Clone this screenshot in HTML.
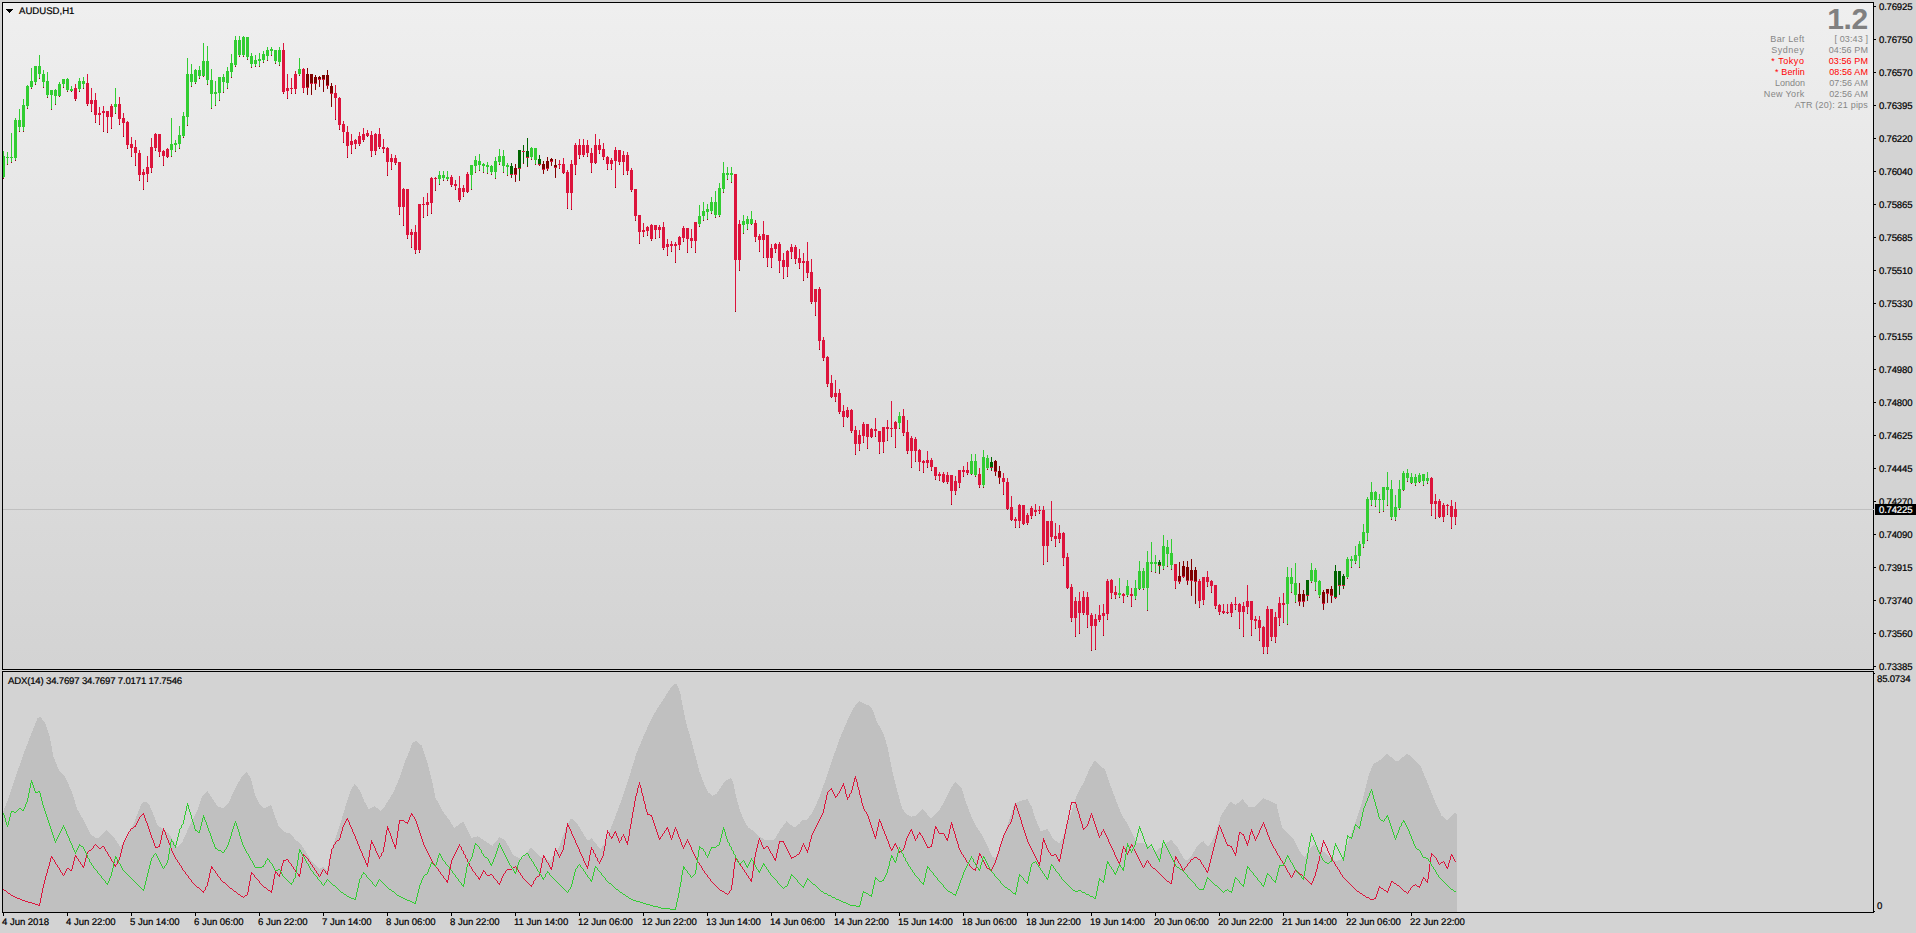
<!DOCTYPE html>
<html><head><meta charset="utf-8"><title>AUDUSD,H1</title>
<style>
html,body{margin:0;padding:0;}
body{width:1916px;height:933px;overflow:hidden;background:#d3d3d3;font-family:"Liberation Sans",sans-serif;position:relative;}
.t{position:absolute;white-space:nowrap;color:#000;font-size:9.6px;line-height:12px;-webkit-text-stroke:0.2px #000;text-rendering:geometricPrecision;}
.pl{left:1879px;letter-spacing:-0.2px;}
.tl{top:917px;letter-spacing:-0.05px;}
.info{position:absolute;white-space:nowrap;font-size:9px;line-height:11px;color:#868686;text-align:right;}
.red{color:#ff0000;}
svg{position:absolute;left:0;top:0;}
</style></head><body>

<svg width="1916" height="933" viewBox="0 0 1916 933" shape-rendering="crispEdges"><defs><linearGradient id="g" x1="0" y1="0" x2="0" y2="1"><stop offset="0" stop-color="#efefef"/><stop offset="1" stop-color="#d3d3d3"/></linearGradient></defs><rect x="3" y="3" width="1870" height="666" fill="url(#g)"/><path fill="#000" d="M2 2H1874V3H2zM2 2h1V670h-1zM1873 2h1V670h-1zM2 669H1874v1H2z"/><path fill="#000" d="M2 671H1874v1H2zM2 671h1V913h-1zM1873 671h1V913h-1zM2 912H1874v1H2z"/><rect x="3" y="509" width="1871" height="1" fill="#c0c0c0"/><path fill="#000" d="M1874 6h2v1h-2zM1874 39h2v1h-2zM1874 72h2v1h-2zM1874 105h2v1h-2zM1874 138h2v1h-2zM1874 171h2v1h-2zM1874 204h2v1h-2zM1874 237h2v1h-2zM1874 270h2v1h-2zM1874 303h2v1h-2zM1874 336h2v1h-2zM1874 369h2v1h-2zM1874 402h2v1h-2zM1874 435h2v1h-2zM1874 468h2v1h-2zM1874 501h2v1h-2zM1874 534h2v1h-2zM1874 567h2v1h-2zM1874 600h2v1h-2zM1874 633h2v1h-2zM1874 666h2v1h-2zM1874 673h1v1h-1zM1874 911h1v1h-1zM3 913h1v3h-1zM67 913h1v3h-1zM131 913h1v3h-1zM195 913h1v3h-1zM259 913h1v3h-1zM323 913h1v3h-1zM387 913h1v3h-1zM451 913h1v3h-1zM515 913h1v3h-1zM579 913h1v3h-1zM643 913h1v3h-1zM707 913h1v3h-1zM771 913h1v3h-1zM835 913h1v3h-1zM899 913h1v3h-1zM963 913h1v3h-1zM1027 913h1v3h-1zM1091 913h1v3h-1zM1155 913h1v3h-1zM1219 913h1v3h-1zM1283 913h1v3h-1zM1347 913h1v3h-1zM1411 913h1v3h-1z"/><rect x="1875" y="504" width="41" height="11" fill="#000"/><polygon shape-rendering="crispEdges" fill="#c0c0c0" points="3.0,912 3.0,812.0 8.4,798.7 16.7,773.6 25.0,750.0 33.4,728.4 37.6,718.0 40.0,716.7 45.0,722.6 49.3,735.0 53.5,756.9 58.5,769.4 65.2,777.0 72.0,792.0 77.0,808.7 83.6,820.4 90.3,833.8 95.3,838.0 98.7,837.5 107.0,830.0 113.7,837.0 120.4,847.0 127.0,838.0 133.8,823.7 138.8,810.4 142.0,802.8 145.5,801.7 148.8,803.7 153.8,815.4 157.2,824.6 163.0,829.6 169.0,833.8 174.0,842.0 177.3,847.0 182.3,842.0 189.0,827.0 197.3,810.4 202.3,796.0 207.4,791.0 211.5,797.0 217.4,806.0 223.2,808.7 229.0,802.0 235.8,787.0 241.6,777.0 247.0,772.0 250.8,778.6 255.0,795.0 260.0,805.0 264.0,808.7 271.0,805.0 274.0,813.7 279.0,827.0 284.0,832.0 291.0,833.8 296.0,841.0 299.0,841.8 306.0,852.0 312.0,862.0 319.3,869.2 323.0,866.4 326.9,870.4 331.0,851.6 339.4,826.6 346.0,804.8 351.0,789.8 354.8,783.9 359.5,789.8 364.5,801.5 368.7,809.0 374.5,806.2 380.4,810.7 384.6,806.5 393.0,793.0 399.6,778.0 404.9,761.8 409.2,751.5 412.6,742.4 416.0,741.0 421.6,745.5 424.6,754.0 427.2,761.8 431.4,778.0 435.6,798.0 443.0,811.5 449.8,820.7 454.0,828.0 463.2,821.5 467.3,830.0 471.5,838.0 478.2,836.3 484.9,840.8 492.4,845.8 499.6,837.0 505.0,840.0 513.3,855.0 521.7,859.2 530.9,847.5 540.0,856.7 550.0,860.8 558.5,848.3 565.2,830.0 571.0,818.2 576.9,823.2 587.7,840.8 591.6,838.3 600.3,849.0 605.3,843.3 609.4,831.5 616.0,814.8 622.8,796.4 629.4,776.3 636.0,754.6 642.8,737.9 649.5,722.8 656.2,710.3 662.9,700.2 669.6,689.4 674.6,683.5 677.0,684.4 680.4,693.6 683.8,712.0 687.0,726.2 691.3,740.4 695.5,756.3 699.7,772.2 703.9,783.5 708.5,792.6 712.6,795.6 716.4,793.9 721.4,786.4 725.6,780.5 730.6,778.0 733.0,781.4 735.6,794.7 739.8,809.8 744.0,820.7 748.2,827.3 753.2,830.7 757.4,835.3 765.8,840.3 774.0,840.3 780.5,829.5 786.6,821.3 794.2,827.6 799.2,824.0 802.6,819.5 807.0,819.7 813.0,811.5 819.6,796.5 826.4,777.2 833.5,756.3 840.0,737.9 846.8,722.0 853.5,707.8 859.4,701.0 864.4,704.0 870.2,706.0 873.6,712.0 877.0,722.0 883.6,733.7 887.8,747.9 892.0,769.6 897.0,789.7 902.0,808.0 906.2,814.0 911.3,816.6 916.0,815.7 923.0,809.0 930.5,818.5 939.7,809.8 948.0,794.5 951.5,786.8 955.5,782.2 961.4,787.3 965.6,801.5 971.4,816.5 976.4,826.6 981.4,834.0 987.3,845.8 992.3,856.7 995.7,858.0 999.8,848.3 1004.9,833.3 1009.9,818.2 1014.9,803.2 1021.6,800.6 1027.4,799.0 1031.6,806.5 1035.8,819.9 1040.8,831.2 1047.5,829.0 1053.4,839.1 1059.2,843.3 1063.4,836.6 1068.4,821.5 1076.8,794.8 1083.5,783.0 1090.0,768.0 1095.0,760.0 1100.0,765.5 1105.0,769.7 1110.2,784.8 1117.0,803.2 1122.0,815.7 1126.0,821.5 1132.0,833.3 1137.0,843.0 1143.7,843.3 1148.7,845.8 1155.4,851.6 1163.7,845.0 1171.2,840.0 1177.0,846.6 1183.8,858.3 1187.0,860.8 1192.0,855.0 1197.2,845.8 1203.2,841.0 1208.2,847.0 1214.0,837.6 1221.4,814.7 1230.2,801.5 1235.5,805.0 1242.6,799.2 1248.7,807.0 1254.5,807.4 1263.3,798.0 1270.0,801.2 1276.5,804.3 1282.0,827.6 1287.6,833.2 1293.2,838.8 1298.8,850.0 1304.4,857.5 1310.0,849.1 1313.8,844.4 1319.3,850.0 1324.0,851.9 1330.5,857.5 1336.0,861.2 1341.7,859.3 1347.3,844.4 1354.8,823.9 1362.2,801.5 1368.8,774.5 1373.4,763.9 1379.0,760.9 1387.0,753.6 1395.8,760.9 1398.6,760.9 1407.0,753.6 1412.6,757.7 1421.0,767.0 1427.5,782.9 1435.0,801.5 1441.5,815.5 1447.0,820.2 1454.5,813.3 1457.0,813.7 1457.0,912"/><rect x="3" y="911" width="1454" height="2" fill="#c0c0c0"/><rect x="2" y="912" width="1872" height="1" fill="#000"/><rect x="2" y="671" width="1" height="242" fill="#000"/><path fill="#dc143c" d="M3 889h1v1h-1zM4 890h1v1h-1zM5 890h1v1h-1zM6 891h1v1h-1zM7 892h1v1h-1zM8 893h1v1h-1zM9 893h1v1h-1zM10 894h1v1h-1zM11 895h1v1h-1zM12 895h1v1h-1zM13 896h1v1h-1zM14 896h1v1h-1zM15 897h1v1h-1zM16 897h1v1h-1zM17 898h1v1h-1zM18 898h1v1h-1zM19 898h1v1h-1zM20 899h1v1h-1zM21 899h1v1h-1zM22 900h1v1h-1zM23 900h1v1h-1zM24 900h1v1h-1zM25 901h1v1h-1zM26 901h1v1h-1zM27 901h1v1h-1zM28 902h1v1h-1zM29 902h1v1h-1zM30 902h1v1h-1zM31 902h1v1h-1zM32 903h1v1h-1zM33 903h1v1h-1zM34 903h1v1h-1zM35 904h1v1h-1zM36 904h1v1h-1zM37 904h1v1h-1zM38 905h1v1h-1zM39 903h1v3h-1zM40 898h1v5h-1zM41 893h1v5h-1zM42 888h1v5h-1zM43 884h1v4h-1zM44 880h1v4h-1zM45 876h1v4h-1zM46 873h1v3h-1zM47 869h1v4h-1zM48 866h1v3h-1zM49 862h1v4h-1zM50 858h1v4h-1zM51 856h1v2h-1zM52 857h1v2h-1zM53 859h1v1h-1zM54 860h1v2h-1zM55 862h1v2h-1zM56 864h1v1h-1zM57 865h1v2h-1zM58 867h1v1h-1zM59 868h1v2h-1zM60 870h1v2h-1zM61 872h1v1h-1zM62 873h1v2h-1zM63 875h1v1h-1zM64 873h1v2h-1zM65 871h1v2h-1zM66 869h1v2h-1zM67 868h1v1h-1zM68 868h1v1h-1zM69 869h1v1h-1zM70 870h1v1h-1zM71 869h1v2h-1zM72 865h1v4h-1zM73 861h1v4h-1zM74 857h1v4h-1zM75 855h1v2h-1zM76 856h1v2h-1zM77 858h1v1h-1zM78 859h1v2h-1zM79 861h1v1h-1zM80 862h1v2h-1zM81 864h1v1h-1zM82 865h1v2h-1zM83 866h1v2h-1zM84 862h1v4h-1zM85 858h1v4h-1zM86 854h1v4h-1zM87 852h1v2h-1zM88 851h1v1h-1zM89 850h1v1h-1zM90 850h1v1h-1zM91 849h1v1h-1zM92 848h1v1h-1zM93 846h1v2h-1zM94 845h1v1h-1zM95 844h1v1h-1zM96 845h1v1h-1zM97 846h1v1h-1zM98 847h1v1h-1zM99 848h1v1h-1zM100 848h1v1h-1zM101 847h1v1h-1zM102 846h1v1h-1zM103 846h1v1h-1zM104 847h1v2h-1zM105 849h1v2h-1zM106 851h1v1h-1zM107 852h1v2h-1zM108 854h1v2h-1zM109 856h1v1h-1zM110 857h1v2h-1zM111 859h1v2h-1zM112 861h1v1h-1zM113 862h1v2h-1zM114 864h1v2h-1zM115 865h1v2h-1zM116 864h1v1h-1zM117 861h1v3h-1zM118 860h1v1h-1zM119 857h1v3h-1zM120 853h1v4h-1zM121 849h1v4h-1zM122 845h1v4h-1zM123 842h1v3h-1zM124 840h1v2h-1zM125 838h1v2h-1zM126 836h1v2h-1zM127 834h1v2h-1zM128 832h1v2h-1zM129 831h1v1h-1zM130 829h1v2h-1zM131 828h1v1h-1zM132 828h1v1h-1zM133 827h1v1h-1zM134 826h1v1h-1zM135 825h1v2h-1zM136 823h1v2h-1zM137 821h1v2h-1zM138 819h1v2h-1zM139 817h1v2h-1zM140 816h1v1h-1zM141 815h1v1h-1zM142 814h1v1h-1zM143 813h1v2h-1zM144 815h1v3h-1zM145 818h1v3h-1zM146 821h1v2h-1zM147 823h1v3h-1zM148 826h1v3h-1zM149 829h1v3h-1zM150 832h1v3h-1zM151 835h1v3h-1zM152 838h1v2h-1zM153 840h1v3h-1zM154 843h1v3h-1zM155 846h1v2h-1zM156 847h1v1h-1zM157 847h1v1h-1zM158 846h1v1h-1zM159 844h1v3h-1zM160 840h1v4h-1zM161 835h1v5h-1zM162 831h1v4h-1zM163 828h1v3h-1zM164 830h1v2h-1zM165 832h1v3h-1zM166 835h1v3h-1zM167 838h1v2h-1zM168 840h1v3h-1zM169 843h1v2h-1zM170 845h1v3h-1zM171 848h1v3h-1zM172 851h1v2h-1zM173 853h1v2h-1zM174 855h1v2h-1zM175 857h1v2h-1zM176 859h1v1h-1zM177 860h1v2h-1zM178 862h1v1h-1zM179 863h1v2h-1zM180 865h1v1h-1zM181 866h1v2h-1zM182 868h1v2h-1zM183 870h1v1h-1zM184 871h1v1h-1zM185 872h1v2h-1zM186 874h1v1h-1zM187 875h1v1h-1zM188 876h1v2h-1zM189 878h1v1h-1zM190 879h1v1h-1zM191 880h1v2h-1zM192 882h1v1h-1zM193 883h1v1h-1zM194 884h1v1h-1zM195 885h1v1h-1zM196 886h1v1h-1zM197 887h1v1h-1zM198 887h1v1h-1zM199 888h1v1h-1zM200 889h1v1h-1zM201 890h1v1h-1zM202 891h1v1h-1zM203 891h1v2h-1zM204 890h1v1h-1zM205 887h1v3h-1zM206 886h1v1h-1zM207 882h1v4h-1zM208 878h1v4h-1zM209 873h1v5h-1zM210 869h1v4h-1zM211 866h1v3h-1zM212 867h1v2h-1zM213 869h1v1h-1zM214 870h1v1h-1zM215 871h1v2h-1zM216 873h1v1h-1zM217 874h1v2h-1zM218 876h1v1h-1zM219 877h1v1h-1zM220 878h1v2h-1zM221 880h1v1h-1zM222 881h1v1h-1zM223 882h1v1h-1zM224 882h1v1h-1zM225 883h1v1h-1zM226 884h1v1h-1zM227 885h1v1h-1zM228 886h1v1h-1zM229 887h1v1h-1zM230 888h1v1h-1zM231 888h1v1h-1zM232 889h1v1h-1zM233 890h1v1h-1zM234 891h1v1h-1zM235 891h1v1h-1zM236 892h1v1h-1zM237 893h1v1h-1zM238 894h1v1h-1zM239 894h1v1h-1zM240 895h1v1h-1zM241 896h1v1h-1zM242 896h1v1h-1zM243 897h1v1h-1zM244 896h1v1h-1zM245 895h1v1h-1zM246 895h1v1h-1zM247 892h1v3h-1zM248 886h1v6h-1zM249 881h1v5h-1zM250 875h1v6h-1zM251 872h1v3h-1zM252 873h1v1h-1zM253 874h1v1h-1zM254 875h1v2h-1zM255 877h1v1h-1zM256 878h1v1h-1zM257 879h1v1h-1zM258 880h1v1h-1zM259 881h1v2h-1zM260 883h1v1h-1zM261 884h1v1h-1zM262 885h1v1h-1zM263 886h1v1h-1zM264 887h1v1h-1zM265 887h1v1h-1zM266 888h1v1h-1zM267 889h1v1h-1zM268 890h1v1h-1zM269 890h1v1h-1zM270 891h1v1h-1zM271 890h1v3h-1zM272 885h1v5h-1zM273 879h1v6h-1zM274 874h1v5h-1zM275 871h1v3h-1zM276 872h1v1h-1zM277 873h1v2h-1zM278 875h1v1h-1zM279 874h1v3h-1zM280 871h1v3h-1zM281 866h1v5h-1zM282 863h1v3h-1zM283 860h1v3h-1zM284 860h1v1h-1zM285 860h1v1h-1zM286 859h1v1h-1zM287 859h1v1h-1zM288 860h1v2h-1zM289 862h1v1h-1zM290 863h1v1h-1zM291 864h1v2h-1zM292 866h1v1h-1zM293 867h1v2h-1zM294 869h1v1h-1zM295 870h1v2h-1zM296 872h1v1h-1zM297 873h1v1h-1zM298 874h1v2h-1zM299 874h1v3h-1zM300 868h1v6h-1zM301 863h1v5h-1zM302 857h1v6h-1zM303 854h1v3h-1zM304 855h1v1h-1zM305 856h1v1h-1zM306 857h1v1h-1zM307 858h1v1h-1zM308 859h1v2h-1zM309 861h1v1h-1zM310 862h1v2h-1zM311 864h1v1h-1zM312 865h1v2h-1zM313 867h1v1h-1zM314 868h1v2h-1zM315 870h1v1h-1zM316 871h1v2h-1zM317 873h1v1h-1zM318 874h1v2h-1zM319 876h1v1h-1zM320 874h1v2h-1zM321 872h1v2h-1zM322 870h1v2h-1zM323 869h1v1h-1zM324 870h1v1h-1zM325 871h1v2h-1zM326 873h1v1h-1zM327 871h1v4h-1zM328 866h1v5h-1zM329 859h1v7h-1zM330 854h1v5h-1zM331 849h1v5h-1zM332 848h1v1h-1zM333 845h1v3h-1zM334 844h1v1h-1zM335 842h1v2h-1zM336 841h1v1h-1zM337 840h1v1h-1zM338 840h1v1h-1zM339 838h1v2h-1zM340 834h1v4h-1zM341 831h1v3h-1zM342 827h1v4h-1zM343 825h1v2h-1zM344 823h1v2h-1zM345 821h1v2h-1zM346 819h1v2h-1zM347 818h1v2h-1zM348 820h1v2h-1zM349 822h1v3h-1zM350 825h1v2h-1zM351 827h1v2h-1zM352 829h1v3h-1zM353 832h1v2h-1zM354 834h1v2h-1zM355 836h1v3h-1zM356 839h1v2h-1zM357 841h1v3h-1zM358 844h1v2h-1zM359 846h1v3h-1zM360 849h1v2h-1zM361 851h1v2h-1zM362 853h1v3h-1zM363 856h1v2h-1zM364 858h1v2h-1zM365 860h1v3h-1zM366 863h1v2h-1zM367 863h1v4h-1zM368 857h1v6h-1zM369 850h1v7h-1zM370 844h1v6h-1zM371 840h1v4h-1zM372 842h1v2h-1zM373 844h1v2h-1zM374 846h1v2h-1zM375 848h1v3h-1zM376 851h1v2h-1zM377 853h1v2h-1zM378 855h1v2h-1zM379 857h1v2h-1zM380 856h1v1h-1zM381 853h1v3h-1zM382 852h1v1h-1zM383 847h1v5h-1zM384 842h1v5h-1zM385 835h1v7h-1zM386 830h1v5h-1zM387 826h1v4h-1zM388 828h1v3h-1zM389 831h1v2h-1zM390 833h1v3h-1zM391 836h1v3h-1zM392 839h1v3h-1zM393 842h1v2h-1zM394 844h1v3h-1zM395 845h1v4h-1zM396 838h1v7h-1zM397 831h1v7h-1zM398 824h1v7h-1zM399 820h1v4h-1zM400 820h1v1h-1zM401 820h1v1h-1zM402 820h1v1h-1zM403 820h1v1h-1zM404 821h1v1h-1zM405 822h1v1h-1zM406 822h1v1h-1zM407 822h1v2h-1zM408 820h1v2h-1zM409 817h1v3h-1zM410 815h1v2h-1zM411 813h1v2h-1zM412 814h1v2h-1zM413 816h1v1h-1zM414 817h1v2h-1zM415 819h1v2h-1zM416 821h1v3h-1zM417 824h1v3h-1zM418 827h1v3h-1zM419 830h1v3h-1zM420 833h1v3h-1zM421 836h1v3h-1zM422 839h1v3h-1zM423 842h1v3h-1zM424 845h1v2h-1zM425 847h1v2h-1zM426 849h1v2h-1zM427 851h1v2h-1zM428 853h1v2h-1zM429 855h1v2h-1zM430 857h1v2h-1zM431 859h1v2h-1zM432 861h1v2h-1zM433 863h1v1h-1zM434 864h1v1h-1zM435 865h1v2h-1zM436 867h1v1h-1zM437 868h1v1h-1zM438 869h1v2h-1zM439 871h1v1h-1zM440 872h1v2h-1zM441 874h1v1h-1zM442 875h1v1h-1zM443 876h1v2h-1zM444 878h1v1h-1zM445 879h1v1h-1zM446 880h1v2h-1zM447 880h1v3h-1zM448 875h1v5h-1zM449 869h1v6h-1zM450 864h1v5h-1zM451 860h1v4h-1zM452 858h1v2h-1zM453 856h1v2h-1zM454 854h1v2h-1zM455 852h1v2h-1zM456 850h1v2h-1zM457 848h1v2h-1zM458 846h1v2h-1zM459 844h1v2h-1zM460 846h1v1h-1zM461 847h1v3h-1zM462 850h1v1h-1zM463 851h1v3h-1zM464 854h1v1h-1zM465 855h1v3h-1zM466 858h1v1h-1zM467 859h1v3h-1zM468 862h1v1h-1zM469 863h1v3h-1zM470 866h1v1h-1zM471 867h1v2h-1zM472 869h1v2h-1zM473 871h1v1h-1zM474 872h1v1h-1zM475 873h1v2h-1zM476 875h1v1h-1zM477 876h1v1h-1zM478 877h1v2h-1zM479 878h1v2h-1zM480 876h1v2h-1zM481 874h1v2h-1zM482 872h1v2h-1zM483 870h1v2h-1zM484 871h1v1h-1zM485 872h1v2h-1zM486 874h1v1h-1zM487 875h1v1h-1zM488 875h1v1h-1zM489 875h1v1h-1zM490 874h1v1h-1zM491 874h1v1h-1zM492 875h1v1h-1zM493 876h1v2h-1zM494 878h1v1h-1zM495 879h1v1h-1zM496 880h1v1h-1zM497 881h1v2h-1zM498 883h1v1h-1zM499 883h1v2h-1zM500 881h1v2h-1zM501 878h1v3h-1zM502 876h1v2h-1zM503 874h1v2h-1zM504 873h1v1h-1zM505 871h1v2h-1zM506 870h1v1h-1zM507 869h1v1h-1zM508 869h1v1h-1zM509 869h1v1h-1zM510 869h1v1h-1zM511 869h1v1h-1zM512 868h1v1h-1zM513 867h1v1h-1zM514 867h1v1h-1zM515 866h1v1h-1zM516 867h1v2h-1zM517 869h1v1h-1zM518 870h1v2h-1zM519 872h1v1h-1zM520 873h1v2h-1zM521 875h1v1h-1zM522 876h1v2h-1zM523 878h1v1h-1zM524 879h1v1h-1zM525 880h1v1h-1zM526 881h1v1h-1zM527 882h1v1h-1zM528 883h1v1h-1zM529 884h1v1h-1zM530 885h1v1h-1zM531 885h1v2h-1zM532 884h1v1h-1zM533 881h1v3h-1zM534 880h1v1h-1zM535 878h1v2h-1zM536 877h1v1h-1zM537 876h1v1h-1zM538 876h1v1h-1zM539 873h1v3h-1zM540 868h1v5h-1zM541 863h1v5h-1zM542 858h1v5h-1zM543 855h1v3h-1zM544 856h1v2h-1zM545 858h1v2h-1zM546 860h1v2h-1zM547 862h1v1h-1zM548 863h1v2h-1zM549 865h1v2h-1zM550 867h1v2h-1zM551 867h1v3h-1zM552 862h1v5h-1zM553 856h1v6h-1zM554 851h1v5h-1zM555 848h1v3h-1zM556 850h1v2h-1zM557 852h1v2h-1zM558 854h1v2h-1zM559 856h1v2h-1zM560 854h1v2h-1zM561 852h1v2h-1zM562 850h1v2h-1zM563 845h1v5h-1zM564 839h1v6h-1zM565 833h1v6h-1zM566 827h1v6h-1zM567 823h1v4h-1zM568 825h1v2h-1zM569 827h1v2h-1zM570 829h1v2h-1zM571 831h1v3h-1zM572 834h1v2h-1zM573 836h1v2h-1zM574 838h1v2h-1zM575 840h1v3h-1zM576 843h1v2h-1zM577 845h1v2h-1zM578 847h1v2h-1zM579 849h1v3h-1zM580 852h1v2h-1zM581 854h1v2h-1zM582 856h1v2h-1zM583 858h1v3h-1zM584 861h1v2h-1zM585 863h1v2h-1zM586 865h1v2h-1zM587 866h1v3h-1zM588 861h1v5h-1zM589 855h1v6h-1zM590 850h1v5h-1zM591 847h1v3h-1zM592 849h1v1h-1zM593 850h1v3h-1zM594 853h1v1h-1zM595 854h1v3h-1zM596 857h1v1h-1zM597 858h1v3h-1zM598 861h1v1h-1zM599 862h1v2h-1zM600 860h1v2h-1zM601 858h1v2h-1zM602 856h1v2h-1zM603 851h1v5h-1zM604 846h1v5h-1zM605 839h1v7h-1zM606 834h1v5h-1zM607 830h1v4h-1zM608 832h1v1h-1zM609 833h1v3h-1zM610 836h1v1h-1zM611 837h1v2h-1zM612 836h1v2h-1zM613 834h1v2h-1zM614 832h1v2h-1zM615 831h1v2h-1zM616 833h1v3h-1zM617 836h1v2h-1zM618 838h1v3h-1zM619 841h1v2h-1zM620 840h1v1h-1zM621 837h1v3h-1zM622 836h1v1h-1zM623 834h1v2h-1zM624 836h1v2h-1zM625 838h1v3h-1zM626 841h1v2h-1zM627 841h1v4h-1zM628 836h1v5h-1zM629 829h1v7h-1zM630 824h1v5h-1zM631 818h1v6h-1zM632 812h1v6h-1zM633 807h1v5h-1zM634 801h1v6h-1zM635 796h1v5h-1zM636 793h1v3h-1zM637 788h1v5h-1zM638 785h1v3h-1zM639 782h1v3h-1zM640 785h1v3h-1zM641 788h1v5h-1zM642 793h1v3h-1zM643 796h1v5h-1zM644 801h1v3h-1zM645 804h1v5h-1zM646 809h1v3h-1zM647 812h1v3h-1zM648 814h1v1h-1zM649 814h1v1h-1zM650 815h1v1h-1zM651 815h1v2h-1zM652 817h1v3h-1zM653 820h1v3h-1zM654 823h1v3h-1zM655 826h1v3h-1zM656 829h1v3h-1zM657 832h1v3h-1zM658 835h1v3h-1zM659 838h1v2h-1zM660 837h1v2h-1zM661 836h1v1h-1zM662 834h1v2h-1zM663 833h1v1h-1zM664 831h1v2h-1zM665 830h1v1h-1zM666 828h1v2h-1zM667 827h1v2h-1zM668 829h1v3h-1zM669 832h1v3h-1zM670 835h1v3h-1zM671 838h1v2h-1zM672 835h1v3h-1zM673 832h1v3h-1zM674 829h1v3h-1zM675 827h1v2h-1zM676 829h1v2h-1zM677 831h1v3h-1zM678 834h1v3h-1zM679 837h1v2h-1zM680 839h1v3h-1zM681 842h1v3h-1zM682 845h1v2h-1zM683 847h1v2h-1zM684 845h1v2h-1zM685 843h1v2h-1zM686 841h1v2h-1zM687 839h1v2h-1zM688 841h1v2h-1zM689 843h1v2h-1zM690 845h1v2h-1zM691 847h1v3h-1zM692 850h1v2h-1zM693 852h1v2h-1zM694 854h1v2h-1zM695 856h1v2h-1zM696 858h1v2h-1zM697 860h1v2h-1zM698 862h1v1h-1zM699 863h1v2h-1zM700 865h1v1h-1zM701 866h1v2h-1zM702 868h1v2h-1zM703 870h1v1h-1zM704 871h1v2h-1zM705 873h1v1h-1zM706 874h1v1h-1zM707 875h1v2h-1zM708 877h1v1h-1zM709 878h1v1h-1zM710 879h1v2h-1zM711 881h1v1h-1zM712 882h1v1h-1zM713 883h1v1h-1zM714 884h1v1h-1zM715 885h1v1h-1zM716 886h1v1h-1zM717 887h1v1h-1zM718 888h1v1h-1zM719 889h1v1h-1zM720 890h1v1h-1zM721 890h1v1h-1zM722 891h1v1h-1zM723 891h1v1h-1zM724 892h1v1h-1zM725 893h1v1h-1zM726 893h1v1h-1zM727 894h1v1h-1zM728 893h1v1h-1zM729 891h1v2h-1zM730 890h1v1h-1zM731 885h1v5h-1zM732 878h1v7h-1zM733 869h1v9h-1zM734 862h1v7h-1zM735 857h1v5h-1zM736 858h1v2h-1zM737 860h1v1h-1zM738 861h1v2h-1zM739 863h1v1h-1zM740 864h1v2h-1zM741 866h1v1h-1zM742 867h1v2h-1zM743 869h1v1h-1zM744 870h1v2h-1zM745 872h1v1h-1zM746 873h1v2h-1zM747 875h1v1h-1zM748 876h1v2h-1zM749 878h1v1h-1zM750 879h1v2h-1zM751 878h1v4h-1zM752 871h1v7h-1zM753 864h1v7h-1zM754 857h1v7h-1zM755 852h1v5h-1zM756 848h1v4h-1zM757 844h1v4h-1zM758 840h1v4h-1zM759 838h1v2h-1zM760 840h1v2h-1zM761 842h1v3h-1zM762 845h1v2h-1zM763 847h1v2h-1zM764 848h1v1h-1zM765 847h1v1h-1zM766 846h1v1h-1zM767 846h1v1h-1zM768 847h1v2h-1zM769 849h1v2h-1zM770 851h1v2h-1zM771 853h1v1h-1zM772 854h1v2h-1zM773 856h1v2h-1zM774 858h1v2h-1zM775 858h1v3h-1zM776 853h1v5h-1zM777 849h1v4h-1zM778 844h1v5h-1zM779 841h1v3h-1zM780 841h1v1h-1zM781 841h1v1h-1zM782 841h1v1h-1zM783 841h1v2h-1zM784 843h1v2h-1zM785 845h1v2h-1zM786 847h1v2h-1zM787 849h1v2h-1zM788 851h1v2h-1zM789 853h1v2h-1zM790 855h1v2h-1zM791 857h1v2h-1zM792 857h1v1h-1zM793 857h1v1h-1zM794 856h1v1h-1zM795 856h1v1h-1zM796 855h1v1h-1zM797 854h1v1h-1zM798 854h1v1h-1zM799 852h1v2h-1zM800 850h1v2h-1zM801 847h1v3h-1zM802 845h1v2h-1zM803 843h1v2h-1zM804 845h1v2h-1zM805 847h1v2h-1zM806 849h1v2h-1zM807 850h1v3h-1zM808 847h1v3h-1zM809 842h1v5h-1zM810 839h1v3h-1zM811 835h1v4h-1zM812 833h1v2h-1zM813 831h1v2h-1zM814 829h1v2h-1zM815 827h1v2h-1zM816 825h1v2h-1zM817 823h1v2h-1zM818 821h1v2h-1zM819 819h1v2h-1zM820 817h1v2h-1zM821 815h1v2h-1zM822 813h1v2h-1zM823 809h1v4h-1zM824 804h1v5h-1zM825 800h1v4h-1zM826 795h1v5h-1zM827 792h1v3h-1zM828 791h1v1h-1zM829 790h1v1h-1zM830 789h1v1h-1zM831 788h1v2h-1zM832 790h1v2h-1zM833 792h1v2h-1zM834 794h1v2h-1zM835 796h1v2h-1zM836 796h1v1h-1zM837 794h1v2h-1zM838 793h1v1h-1zM839 791h1v2h-1zM840 789h1v2h-1zM841 787h1v2h-1zM842 785h1v2h-1zM843 783h1v3h-1zM844 786h1v3h-1zM845 789h1v5h-1zM846 794h1v3h-1zM847 797h1v3h-1zM848 797h1v1h-1zM849 794h1v3h-1zM850 793h1v1h-1zM851 790h1v3h-1zM852 786h1v4h-1zM853 782h1v4h-1zM854 778h1v4h-1zM855 776h1v3h-1zM856 779h1v3h-1zM857 782h1v5h-1zM858 787h1v3h-1zM859 790h1v5h-1zM860 795h1v3h-1zM861 798h1v5h-1zM862 803h1v3h-1zM863 806h1v3h-1zM864 809h1v2h-1zM865 811h1v1h-1zM866 812h1v2h-1zM867 814h1v2h-1zM868 816h1v3h-1zM869 819h1v3h-1zM870 822h1v3h-1zM871 825h1v3h-1zM872 828h1v3h-1zM873 831h1v3h-1zM874 834h1v3h-1zM875 836h1v3h-1zM876 831h1v5h-1zM877 827h1v4h-1zM878 822h1v5h-1zM879 819h1v3h-1zM880 821h1v2h-1zM881 823h1v3h-1zM882 826h1v3h-1zM883 829h1v2h-1zM884 831h1v3h-1zM885 834h1v2h-1zM886 836h1v3h-1zM887 839h1v2h-1zM888 841h1v3h-1zM889 844h1v3h-1zM890 847h1v2h-1zM891 849h1v2h-1zM892 848h1v2h-1zM893 846h1v2h-1zM894 844h1v2h-1zM895 843h1v2h-1zM896 845h1v2h-1zM897 847h1v2h-1zM898 849h1v2h-1zM899 851h1v2h-1zM900 851h1v1h-1zM901 850h1v1h-1zM902 850h1v1h-1zM903 848h1v2h-1zM904 845h1v3h-1zM905 841h1v4h-1zM906 838h1v3h-1zM907 836h1v2h-1zM908 834h1v2h-1zM909 832h1v2h-1zM910 830h1v2h-1zM911 829h1v2h-1zM912 831h1v3h-1zM913 834h1v2h-1zM914 836h1v3h-1zM915 839h1v2h-1zM916 838h1v1h-1zM917 835h1v3h-1zM918 834h1v1h-1zM919 832h1v2h-1zM920 833h1v2h-1zM921 835h1v1h-1zM922 836h1v2h-1zM923 838h1v2h-1zM924 840h1v2h-1zM925 842h1v2h-1zM926 844h1v2h-1zM927 846h1v2h-1zM928 847h1v1h-1zM929 847h1v1h-1zM930 846h1v1h-1zM931 844h1v3h-1zM932 839h1v5h-1zM933 834h1v5h-1zM934 829h1v5h-1zM935 826h1v3h-1zM936 827h1v2h-1zM937 829h1v2h-1zM938 831h1v2h-1zM939 833h1v1h-1zM940 833h1v1h-1zM941 833h1v1h-1zM942 833h1v1h-1zM943 833h1v1h-1zM944 834h1v2h-1zM945 836h1v2h-1zM946 838h1v2h-1zM947 838h1v3h-1zM948 834h1v4h-1zM949 829h1v5h-1zM950 825h1v4h-1zM951 822h1v3h-1zM952 824h1v4h-1zM953 828h1v3h-1zM954 831h1v3h-1zM955 834h1v4h-1zM956 838h1v3h-1zM957 841h1v3h-1zM958 844h1v4h-1zM959 848h1v2h-1zM960 850h1v2h-1zM961 852h1v2h-1zM962 854h1v1h-1zM963 855h1v2h-1zM964 857h1v1h-1zM965 858h1v2h-1zM966 860h1v2h-1zM967 862h1v1h-1zM968 863h1v1h-1zM969 864h1v2h-1zM970 866h1v1h-1zM971 867h1v1h-1zM972 868h1v1h-1zM973 869h1v1h-1zM974 869h1v1h-1zM975 868h1v3h-1zM976 864h1v4h-1zM977 860h1v4h-1zM978 856h1v4h-1zM979 853h1v3h-1zM980 854h1v2h-1zM981 856h1v2h-1zM982 858h1v2h-1zM983 860h1v2h-1zM984 862h1v2h-1zM985 864h1v2h-1zM986 866h1v2h-1zM987 868h1v1h-1zM988 868h1v1h-1zM989 869h1v1h-1zM990 870h1v1h-1zM991 869h1v2h-1zM992 867h1v2h-1zM993 865h1v2h-1zM994 863h1v2h-1zM995 860h1v3h-1zM996 857h1v3h-1zM997 854h1v3h-1zM998 851h1v3h-1zM999 847h1v4h-1zM1000 844h1v3h-1zM1001 841h1v3h-1zM1002 838h1v3h-1zM1003 835h1v3h-1zM1004 833h1v2h-1zM1005 831h1v2h-1zM1006 829h1v2h-1zM1007 827h1v2h-1zM1008 825h1v2h-1zM1009 824h1v1h-1zM1010 822h1v2h-1zM1011 819h1v3h-1zM1012 815h1v4h-1zM1013 810h1v5h-1zM1014 806h1v4h-1zM1015 803h1v3h-1zM1016 805h1v3h-1zM1017 808h1v3h-1zM1018 811h1v3h-1zM1019 814h1v3h-1zM1020 817h1v3h-1zM1021 820h1v4h-1zM1022 824h1v3h-1zM1023 827h1v3h-1zM1024 830h1v3h-1zM1025 833h1v3h-1zM1026 836h1v3h-1zM1027 839h1v3h-1zM1028 842h1v2h-1zM1029 844h1v2h-1zM1030 846h1v2h-1zM1031 848h1v2h-1zM1032 850h1v2h-1zM1033 852h1v2h-1zM1034 854h1v2h-1zM1035 856h1v2h-1zM1036 858h1v2h-1zM1037 860h1v2h-1zM1038 862h1v2h-1zM1039 862h1v4h-1zM1040 855h1v7h-1zM1041 849h1v6h-1zM1042 842h1v7h-1zM1043 838h1v4h-1zM1044 840h1v3h-1zM1045 843h1v2h-1zM1046 845h1v3h-1zM1047 848h1v2h-1zM1048 850h1v2h-1zM1049 852h1v1h-1zM1050 853h1v2h-1zM1051 855h1v1h-1zM1052 855h1v1h-1zM1053 855h1v1h-1zM1054 854h1v1h-1zM1055 854h1v1h-1zM1056 855h1v2h-1zM1057 857h1v2h-1zM1058 859h1v2h-1zM1059 859h1v3h-1zM1060 854h1v5h-1zM1061 849h1v5h-1zM1062 844h1v5h-1zM1063 839h1v5h-1zM1064 834h1v5h-1zM1065 829h1v5h-1zM1066 824h1v5h-1zM1067 820h1v4h-1zM1068 815h1v5h-1zM1069 810h1v5h-1zM1070 805h1v5h-1zM1071 802h1v3h-1zM1072 802h1v1h-1zM1073 802h1v1h-1zM1074 802h1v1h-1zM1075 802h1v2h-1zM1076 804h1v4h-1zM1077 808h1v3h-1zM1078 811h1v3h-1zM1079 814h1v4h-1zM1080 818h1v3h-1zM1081 821h1v3h-1zM1082 824h1v4h-1zM1083 828h1v2h-1zM1084 828h1v1h-1zM1085 827h1v1h-1zM1086 826h1v1h-1zM1087 824h1v2h-1zM1088 821h1v3h-1zM1089 818h1v3h-1zM1090 815h1v3h-1zM1091 813h1v2h-1zM1092 815h1v3h-1zM1093 818h1v3h-1zM1094 821h1v3h-1zM1095 824h1v3h-1zM1096 827h1v3h-1zM1097 830h1v3h-1zM1098 833h1v3h-1zM1099 836h1v2h-1zM1100 835h1v1h-1zM1101 832h1v3h-1zM1102 831h1v1h-1zM1103 829h1v2h-1zM1104 831h1v2h-1zM1105 833h1v2h-1zM1106 835h1v2h-1zM1107 837h1v2h-1zM1108 839h1v3h-1zM1109 842h1v2h-1zM1110 844h1v2h-1zM1111 846h1v2h-1zM1112 848h1v2h-1zM1113 850h1v2h-1zM1114 852h1v3h-1zM1115 855h1v2h-1zM1116 857h1v2h-1zM1117 859h1v2h-1zM1118 861h1v2h-1zM1119 862h1v3h-1zM1120 858h1v4h-1zM1121 853h1v5h-1zM1122 849h1v4h-1zM1123 846h1v3h-1zM1124 848h1v1h-1zM1125 849h1v3h-1zM1126 852h1v1h-1zM1127 853h1v2h-1zM1128 851h1v2h-1zM1129 848h1v3h-1zM1130 846h1v2h-1zM1131 844h1v2h-1zM1132 845h1v2h-1zM1133 847h1v2h-1zM1134 849h1v2h-1zM1135 851h1v2h-1zM1136 853h1v2h-1zM1137 855h1v2h-1zM1138 857h1v2h-1zM1139 859h1v2h-1zM1140 861h1v2h-1zM1141 863h1v2h-1zM1142 865h1v2h-1zM1143 867h1v1h-1zM1144 865h1v2h-1zM1145 863h1v2h-1zM1146 861h1v2h-1zM1147 860h1v1h-1zM1148 861h1v2h-1zM1149 863h1v1h-1zM1150 864h1v2h-1zM1151 866h1v1h-1zM1152 867h1v1h-1zM1153 868h1v1h-1zM1154 868h1v1h-1zM1155 869h1v1h-1zM1156 870h1v1h-1zM1157 871h1v1h-1zM1158 872h1v1h-1zM1159 873h1v1h-1zM1160 874h1v1h-1zM1161 875h1v1h-1zM1162 876h1v1h-1zM1163 877h1v1h-1zM1164 878h1v1h-1zM1165 879h1v1h-1zM1166 880h1v1h-1zM1167 881h1v1h-1zM1168 881h1v1h-1zM1169 882h1v1h-1zM1170 883h1v1h-1zM1171 880h1v4h-1zM1172 873h1v7h-1zM1173 867h1v6h-1zM1174 860h1v7h-1zM1175 856h1v4h-1zM1176 857h1v2h-1zM1177 859h1v2h-1zM1178 861h1v2h-1zM1179 863h1v1h-1zM1180 864h1v2h-1zM1181 866h1v2h-1zM1182 868h1v2h-1zM1183 870h1v1h-1zM1184 868h1v2h-1zM1185 867h1v1h-1zM1186 866h1v1h-1zM1187 864h1v2h-1zM1188 863h1v1h-1zM1189 862h1v1h-1zM1190 860h1v2h-1zM1191 859h1v1h-1zM1192 859h1v1h-1zM1193 858h1v1h-1zM1194 857h1v1h-1zM1195 857h1v1h-1zM1196 857h1v1h-1zM1197 858h1v1h-1zM1198 859h1v1h-1zM1199 859h1v1h-1zM1200 860h1v2h-1zM1201 862h1v2h-1zM1202 864h1v1h-1zM1203 865h1v2h-1zM1204 867h1v1h-1zM1205 868h1v2h-1zM1206 870h1v2h-1zM1207 871h1v2h-1zM1208 867h1v4h-1zM1209 863h1v4h-1zM1210 859h1v4h-1zM1211 855h1v4h-1zM1212 851h1v4h-1zM1213 847h1v4h-1zM1214 843h1v4h-1zM1215 839h1v4h-1zM1216 835h1v4h-1zM1217 831h1v4h-1zM1218 827h1v4h-1zM1219 825h1v2h-1zM1220 827h1v2h-1zM1221 829h1v3h-1zM1222 832h1v2h-1zM1223 834h1v3h-1zM1224 837h1v2h-1zM1225 839h1v3h-1zM1226 842h1v2h-1zM1227 844h1v2h-1zM1228 845h1v1h-1zM1229 845h1v1h-1zM1230 846h1v1h-1zM1231 846h1v2h-1zM1232 848h1v2h-1zM1233 850h1v2h-1zM1234 852h1v2h-1zM1235 853h1v3h-1zM1236 847h1v6h-1zM1237 841h1v6h-1zM1238 835h1v6h-1zM1239 832h1v3h-1zM1240 832h1v1h-1zM1241 833h1v1h-1zM1242 834h1v1h-1zM1243 834h1v2h-1zM1244 836h1v3h-1zM1245 839h1v2h-1zM1246 841h1v3h-1zM1247 843h1v3h-1zM1248 840h1v3h-1zM1249 835h1v5h-1zM1250 832h1v3h-1zM1251 829h1v3h-1zM1252 831h1v3h-1zM1253 834h1v2h-1zM1254 836h1v3h-1zM1255 839h1v2h-1zM1256 837h1v2h-1zM1257 835h1v2h-1zM1258 833h1v2h-1zM1259 830h1v3h-1zM1260 828h1v2h-1zM1261 826h1v2h-1zM1262 824h1v2h-1zM1263 822h1v2h-1zM1264 824h1v3h-1zM1265 827h1v2h-1zM1266 829h1v3h-1zM1267 832h1v3h-1zM1268 835h1v2h-1zM1269 837h1v3h-1zM1270 840h1v2h-1zM1271 842h1v2h-1zM1272 844h1v2h-1zM1273 846h1v2h-1zM1274 848h1v1h-1zM1275 849h1v2h-1zM1276 851h1v2h-1zM1277 853h1v2h-1zM1278 855h1v1h-1zM1279 856h1v2h-1zM1280 858h1v2h-1zM1281 860h1v1h-1zM1282 861h1v2h-1zM1283 863h1v2h-1zM1284 865h1v1h-1zM1285 866h1v2h-1zM1286 868h1v2h-1zM1287 870h1v2h-1zM1288 872h1v1h-1zM1289 873h1v2h-1zM1290 875h1v2h-1zM1291 877h1v1h-1zM1292 875h1v2h-1zM1293 873h1v2h-1zM1294 871h1v2h-1zM1295 870h1v1h-1zM1296 871h1v1h-1zM1297 872h1v1h-1zM1298 872h1v1h-1zM1299 873h1v1h-1zM1300 874h1v1h-1zM1301 874h1v1h-1zM1302 875h1v1h-1zM1303 876h1v1h-1zM1304 877h1v1h-1zM1305 878h1v1h-1zM1306 879h1v1h-1zM1307 880h1v1h-1zM1308 881h1v1h-1zM1309 882h1v1h-1zM1310 883h1v1h-1zM1311 883h1v2h-1zM1312 881h1v2h-1zM1313 878h1v3h-1zM1314 876h1v2h-1zM1315 872h1v4h-1zM1316 869h1v3h-1zM1317 864h1v5h-1zM1318 861h1v3h-1zM1319 856h1v5h-1zM1320 852h1v4h-1zM1321 847h1v5h-1zM1322 843h1v4h-1zM1323 840h1v3h-1zM1324 842h1v2h-1zM1325 844h1v2h-1zM1326 846h1v2h-1zM1327 848h1v3h-1zM1328 851h1v2h-1zM1329 853h1v2h-1zM1330 855h1v2h-1zM1331 857h1v2h-1zM1332 859h1v2h-1zM1333 861h1v1h-1zM1334 862h1v2h-1zM1335 864h1v2h-1zM1336 866h1v1h-1zM1337 867h1v2h-1zM1338 869h1v1h-1zM1339 870h1v2h-1zM1340 872h1v2h-1zM1341 874h1v1h-1zM1342 875h1v2h-1zM1343 877h1v1h-1zM1344 878h1v1h-1zM1345 879h1v1h-1zM1346 880h1v1h-1zM1347 881h1v1h-1zM1348 882h1v1h-1zM1349 883h1v1h-1zM1350 884h1v1h-1zM1351 885h1v1h-1zM1352 886h1v1h-1zM1353 887h1v1h-1zM1354 888h1v1h-1zM1355 889h1v1h-1zM1356 890h1v1h-1zM1357 891h1v1h-1zM1358 891h1v1h-1zM1359 892h1v1h-1zM1360 893h1v1h-1zM1361 893h1v1h-1zM1362 894h1v1h-1zM1363 895h1v1h-1zM1364 895h1v1h-1zM1365 896h1v1h-1zM1366 897h1v1h-1zM1367 897h1v1h-1zM1368 897h1v1h-1zM1369 898h1v1h-1zM1370 899h1v1h-1zM1371 899h1v1h-1zM1372 899h1v1h-1zM1373 899h1v1h-1zM1374 898h1v1h-1zM1375 897h1v2h-1zM1376 894h1v3h-1zM1377 891h1v3h-1zM1378 888h1v3h-1zM1379 886h1v2h-1zM1380 887h1v1h-1zM1381 888h1v1h-1zM1382 888h1v1h-1zM1383 889h1v1h-1zM1384 890h1v1h-1zM1385 890h1v1h-1zM1386 891h1v1h-1zM1387 891h1v2h-1zM1388 888h1v3h-1zM1389 886h1v2h-1zM1390 883h1v3h-1zM1391 881h1v2h-1zM1392 881h1v1h-1zM1393 882h1v1h-1zM1394 883h1v1h-1zM1395 883h1v1h-1zM1396 884h1v1h-1zM1397 885h1v1h-1zM1398 885h1v1h-1zM1399 886h1v1h-1zM1400 887h1v1h-1zM1401 888h1v1h-1zM1402 889h1v1h-1zM1403 890h1v1h-1zM1404 891h1v1h-1zM1405 891h1v1h-1zM1406 892h1v1h-1zM1407 893h1v1h-1zM1408 891h1v2h-1zM1409 890h1v1h-1zM1410 888h1v2h-1zM1411 887h1v1h-1zM1412 886h1v1h-1zM1413 885h1v1h-1zM1414 885h1v1h-1zM1415 884h1v1h-1zM1416 885h1v1h-1zM1417 886h1v1h-1zM1418 886h1v1h-1zM1419 886h1v2h-1zM1420 884h1v2h-1zM1421 881h1v3h-1zM1422 879h1v2h-1zM1423 877h1v2h-1zM1424 878h1v1h-1zM1425 879h1v2h-1zM1426 881h1v1h-1zM1427 879h1v4h-1zM1428 872h1v7h-1zM1429 864h1v8h-1zM1430 857h1v7h-1zM1431 853h1v4h-1zM1432 854h1v1h-1zM1433 855h1v1h-1zM1434 856h1v1h-1zM1435 857h1v1h-1zM1436 858h1v2h-1zM1437 860h1v2h-1zM1438 862h1v2h-1zM1439 864h1v1h-1zM1440 863h1v1h-1zM1441 862h1v1h-1zM1442 862h1v1h-1zM1443 861h1v1h-1zM1444 862h1v2h-1zM1445 864h1v2h-1zM1446 866h1v2h-1zM1447 867h1v2h-1zM1448 863h1v4h-1zM1449 860h1v3h-1zM1450 856h1v4h-1zM1451 854h1v2h-1zM1452 855h1v2h-1zM1453 857h1v2h-1zM1454 859h1v2h-1zM1455 861h1v1h-1z"/><path fill="#32cd32" d="M3 813h1v2h-1zM4 815h1v3h-1zM5 818h1v4h-1zM6 822h1v3h-1zM7 825h1v2h-1zM8 821h1v4h-1zM9 817h1v4h-1zM10 813h1v4h-1zM11 811h1v2h-1zM12 811h1v1h-1zM13 811h1v1h-1zM14 812h1v1h-1zM15 812h1v1h-1zM16 811h1v1h-1zM17 810h1v1h-1zM18 809h1v1h-1zM19 808h1v1h-1zM20 808h1v1h-1zM21 809h1v1h-1zM22 810h1v1h-1zM23 809h1v2h-1zM24 807h1v2h-1zM25 804h1v3h-1zM26 802h1v2h-1zM27 798h1v4h-1zM28 793h1v5h-1zM29 788h1v5h-1zM30 783h1v5h-1zM31 780h1v3h-1zM32 782h1v3h-1zM33 785h1v3h-1zM34 788h1v3h-1zM35 791h1v2h-1zM36 792h1v1h-1zM37 792h1v1h-1zM38 791h1v1h-1zM39 791h1v2h-1zM40 793h1v4h-1zM41 797h1v4h-1zM42 801h1v4h-1zM43 805h1v3h-1zM44 808h1v3h-1zM45 811h1v3h-1zM46 814h1v3h-1zM47 817h1v3h-1zM48 820h1v3h-1zM49 823h1v3h-1zM50 826h1v3h-1zM51 829h1v3h-1zM52 832h1v3h-1zM53 835h1v3h-1zM54 838h1v3h-1zM55 841h1v2h-1zM56 839h1v2h-1zM57 837h1v2h-1zM58 835h1v2h-1zM59 833h1v2h-1zM60 831h1v2h-1zM61 829h1v2h-1zM62 827h1v2h-1zM63 825h1v2h-1zM64 827h1v2h-1zM65 829h1v2h-1zM66 831h1v3h-1zM67 834h1v2h-1zM68 836h1v2h-1zM69 838h1v3h-1zM70 841h1v2h-1zM71 843h1v2h-1zM72 845h1v3h-1zM73 848h1v2h-1zM74 850h1v2h-1zM75 852h1v2h-1zM76 850h1v2h-1zM77 848h1v2h-1zM78 846h1v2h-1zM79 844h1v2h-1zM80 845h1v1h-1zM81 846h1v1h-1zM82 846h1v1h-1zM83 847h1v2h-1zM84 849h1v2h-1zM85 851h1v2h-1zM86 853h1v2h-1zM87 855h1v3h-1zM88 858h1v1h-1zM89 859h1v3h-1zM90 862h1v1h-1zM91 863h1v2h-1zM92 865h1v1h-1zM93 866h1v2h-1zM94 868h1v1h-1zM95 869h1v1h-1zM96 870h1v1h-1zM97 871h1v2h-1zM98 873h1v1h-1zM99 874h1v1h-1zM100 875h1v1h-1zM101 876h1v2h-1zM102 878h1v1h-1zM103 879h1v1h-1zM104 880h1v1h-1zM105 881h1v2h-1zM106 883h1v1h-1zM107 883h1v2h-1zM108 881h1v2h-1zM109 878h1v3h-1zM110 876h1v2h-1zM111 872h1v4h-1zM112 868h1v4h-1zM113 863h1v5h-1zM114 859h1v4h-1zM115 856h1v3h-1zM116 857h1v2h-1zM117 859h1v2h-1zM118 861h1v2h-1zM119 863h1v1h-1zM120 864h1v2h-1zM121 866h1v2h-1zM122 868h1v2h-1zM123 870h1v1h-1zM124 871h1v1h-1zM125 872h1v1h-1zM126 873h1v1h-1zM127 874h1v1h-1zM128 875h1v1h-1zM129 876h1v1h-1zM130 877h1v1h-1zM131 878h1v1h-1zM132 879h1v1h-1zM133 880h1v1h-1zM134 881h1v1h-1zM135 882h1v1h-1zM136 883h1v1h-1zM137 884h1v1h-1zM138 885h1v1h-1zM139 886h1v1h-1zM140 887h1v1h-1zM141 888h1v1h-1zM142 889h1v1h-1zM143 889h1v2h-1zM144 885h1v4h-1zM145 881h1v4h-1zM146 877h1v4h-1zM147 873h1v4h-1zM148 869h1v4h-1zM149 865h1v4h-1zM150 861h1v4h-1zM151 858h1v3h-1zM152 857h1v1h-1zM153 855h1v2h-1zM154 854h1v1h-1zM155 853h1v1h-1zM156 854h1v2h-1zM157 856h1v2h-1zM158 858h1v2h-1zM159 860h1v2h-1zM160 862h1v2h-1zM161 864h1v2h-1zM162 866h1v2h-1zM163 868h1v1h-1zM164 866h1v2h-1zM165 865h1v1h-1zM166 863h1v2h-1zM167 860h1v3h-1zM168 854h1v6h-1zM169 848h1v6h-1zM170 842h1v6h-1zM171 839h1v3h-1zM172 841h1v1h-1zM173 842h1v3h-1zM174 845h1v1h-1zM175 845h1v3h-1zM176 841h1v4h-1zM177 837h1v4h-1zM178 833h1v4h-1zM179 829h1v4h-1zM180 828h1v1h-1zM181 825h1v3h-1zM182 824h1v1h-1zM183 820h1v4h-1zM184 815h1v5h-1zM185 811h1v4h-1zM186 806h1v5h-1zM187 803h1v3h-1zM188 805h1v4h-1zM189 809h1v3h-1zM190 812h1v3h-1zM191 815h1v4h-1zM192 819h1v3h-1zM193 822h1v3h-1zM194 825h1v4h-1zM195 829h1v2h-1zM196 830h1v1h-1zM197 831h1v1h-1zM198 832h1v1h-1zM199 830h1v3h-1zM200 826h1v4h-1zM201 822h1v4h-1zM202 818h1v4h-1zM203 815h1v3h-1zM204 817h1v3h-1zM205 820h1v2h-1zM206 822h1v3h-1zM207 825h1v3h-1zM208 828h1v3h-1zM209 831h1v2h-1zM210 833h1v3h-1zM211 836h1v3h-1zM212 839h1v3h-1zM213 842h1v2h-1zM214 844h1v3h-1zM215 847h1v2h-1zM216 848h1v1h-1zM217 849h1v1h-1zM218 850h1v1h-1zM219 850h1v1h-1zM220 850h1v1h-1zM221 851h1v1h-1zM222 852h1v1h-1zM223 852h1v1h-1zM224 850h1v2h-1zM225 849h1v1h-1zM226 847h1v2h-1zM227 845h1v2h-1zM228 842h1v3h-1zM229 839h1v3h-1zM230 836h1v3h-1zM231 832h1v4h-1zM232 829h1v3h-1zM233 826h1v3h-1zM234 823h1v3h-1zM235 821h1v2h-1zM236 823h1v3h-1zM237 826h1v3h-1zM238 829h1v3h-1zM239 832h1v4h-1zM240 836h1v3h-1zM241 839h1v3h-1zM242 842h1v3h-1zM243 845h1v2h-1zM244 847h1v2h-1zM245 849h1v2h-1zM246 851h1v2h-1zM247 853h1v1h-1zM248 854h1v2h-1zM249 856h1v2h-1zM250 858h1v2h-1zM251 860h1v1h-1zM252 861h1v2h-1zM253 863h1v2h-1zM254 865h1v2h-1zM255 867h1v1h-1zM256 867h1v1h-1zM257 867h1v1h-1zM258 867h1v1h-1zM259 867h1v1h-1zM260 867h1v1h-1zM261 867h1v1h-1zM262 866h1v1h-1zM263 865h1v2h-1zM264 864h1v1h-1zM265 861h1v3h-1zM266 860h1v1h-1zM267 858h1v2h-1zM268 859h1v1h-1zM269 860h1v2h-1zM270 862h1v1h-1zM271 863h1v1h-1zM272 864h1v2h-1zM273 866h1v2h-1zM274 868h1v2h-1zM275 870h1v1h-1zM276 870h1v1h-1zM277 870h1v1h-1zM278 869h1v1h-1zM279 869h1v1h-1zM280 870h1v2h-1zM281 872h1v2h-1zM282 874h1v2h-1zM283 876h1v1h-1zM284 877h1v1h-1zM285 878h1v1h-1zM286 879h1v1h-1zM287 880h1v1h-1zM288 881h1v1h-1zM289 882h1v1h-1zM290 883h1v1h-1zM291 883h1v2h-1zM292 882h1v1h-1zM293 879h1v3h-1zM294 878h1v1h-1zM295 873h1v5h-1zM296 866h1v7h-1zM297 860h1v6h-1zM298 853h1v7h-1zM299 849h1v4h-1zM300 850h1v2h-1zM301 852h1v2h-1zM302 854h1v2h-1zM303 856h1v1h-1zM304 857h1v2h-1zM305 859h1v2h-1zM306 861h1v2h-1zM307 863h1v1h-1zM308 864h1v2h-1zM309 866h1v2h-1zM310 868h1v2h-1zM311 870h1v1h-1zM312 871h1v1h-1zM313 872h1v2h-1zM314 874h1v1h-1zM315 875h1v1h-1zM316 876h1v1h-1zM317 877h1v2h-1zM318 879h1v1h-1zM319 880h1v1h-1zM320 881h1v1h-1zM321 882h1v2h-1zM322 884h1v1h-1zM323 885h1v1h-1zM324 883h1v2h-1zM325 882h1v1h-1zM326 880h1v2h-1zM327 879h1v1h-1zM328 880h1v1h-1zM329 881h1v1h-1zM330 882h1v1h-1zM331 883h1v1h-1zM332 884h1v1h-1zM333 885h1v1h-1zM334 885h1v1h-1zM335 886h1v1h-1zM336 887h1v1h-1zM337 888h1v1h-1zM338 889h1v1h-1zM339 890h1v1h-1zM340 891h1v1h-1zM341 892h1v1h-1zM342 892h1v1h-1zM343 893h1v1h-1zM344 894h1v1h-1zM345 894h1v1h-1zM346 895h1v1h-1zM347 896h1v1h-1zM348 896h1v1h-1zM349 897h1v1h-1zM350 897h1v1h-1zM351 898h1v1h-1zM352 898h1v1h-1zM353 898h1v1h-1zM354 899h1v1h-1zM355 897h1v3h-1zM356 892h1v5h-1zM357 888h1v4h-1zM358 883h1v5h-1zM359 879h1v4h-1zM360 878h1v1h-1zM361 875h1v3h-1zM362 874h1v1h-1zM363 872h1v2h-1zM364 873h1v1h-1zM365 874h1v1h-1zM366 875h1v2h-1zM367 877h1v1h-1zM368 878h1v1h-1zM369 879h1v1h-1zM370 880h1v1h-1zM371 881h1v1h-1zM372 882h1v2h-1zM373 884h1v1h-1zM374 885h1v1h-1zM375 886h1v1h-1zM376 884h1v2h-1zM377 882h1v2h-1zM378 880h1v2h-1zM379 879h1v1h-1zM380 880h1v1h-1zM381 881h1v1h-1zM382 882h1v1h-1zM383 883h1v1h-1zM384 884h1v1h-1zM385 885h1v1h-1zM386 886h1v1h-1zM387 887h1v1h-1zM388 888h1v1h-1zM389 889h1v1h-1zM390 889h1v1h-1zM391 890h1v1h-1zM392 891h1v1h-1zM393 891h1v1h-1zM394 892h1v1h-1zM395 893h1v1h-1zM396 894h1v1h-1zM397 895h1v1h-1zM398 895h1v1h-1zM399 896h1v1h-1zM400 896h1v1h-1zM401 897h1v1h-1zM402 897h1v1h-1zM403 898h1v1h-1zM404 898h1v1h-1zM405 899h1v1h-1zM406 899h1v1h-1zM407 900h1v1h-1zM408 900h1v1h-1zM409 900h1v1h-1zM410 901h1v1h-1zM411 901h1v1h-1zM412 902h1v1h-1zM413 902h1v1h-1zM414 903h1v1h-1zM415 901h1v3h-1zM416 897h1v4h-1zM417 893h1v4h-1zM418 889h1v4h-1zM419 885h1v4h-1zM420 883h1v2h-1zM421 880h1v3h-1zM422 878h1v2h-1zM423 876h1v2h-1zM424 875h1v1h-1zM425 874h1v1h-1zM426 874h1v1h-1zM427 872h1v2h-1zM428 869h1v3h-1zM429 867h1v2h-1zM430 864h1v3h-1zM431 862h1v2h-1zM432 863h1v1h-1zM433 864h1v1h-1zM434 865h1v1h-1zM435 865h1v2h-1zM436 862h1v3h-1zM437 858h1v4h-1zM438 855h1v3h-1zM439 853h1v2h-1zM440 854h1v2h-1zM441 856h1v2h-1zM442 858h1v2h-1zM443 860h1v1h-1zM444 861h1v1h-1zM445 862h1v2h-1zM446 864h1v1h-1zM447 865h1v1h-1zM448 866h1v1h-1zM449 867h1v2h-1zM450 869h1v1h-1zM451 870h1v1h-1zM452 871h1v2h-1zM453 873h1v1h-1zM454 874h1v1h-1zM455 875h1v2h-1zM456 877h1v1h-1zM457 878h1v1h-1zM458 879h1v2h-1zM459 881h1v1h-1zM460 882h1v1h-1zM461 883h1v2h-1zM462 885h1v1h-1zM463 884h1v3h-1zM464 878h1v6h-1zM465 873h1v5h-1zM466 867h1v6h-1zM467 864h1v3h-1zM468 862h1v2h-1zM469 861h1v1h-1zM470 859h1v2h-1zM471 857h1v2h-1zM472 853h1v4h-1zM473 849h1v4h-1zM474 845h1v4h-1zM475 843h1v2h-1zM476 844h1v1h-1zM477 845h1v1h-1zM478 846h1v1h-1zM479 847h1v2h-1zM480 849h1v1h-1zM481 850h1v3h-1zM482 853h1v1h-1zM483 854h1v2h-1zM484 856h1v1h-1zM485 857h1v1h-1zM486 857h1v1h-1zM487 858h1v1h-1zM488 859h1v2h-1zM489 861h1v2h-1zM490 863h1v2h-1zM491 864h1v2h-1zM492 862h1v2h-1zM493 859h1v3h-1zM494 857h1v2h-1zM495 854h1v3h-1zM496 851h1v3h-1zM497 848h1v3h-1zM498 845h1v3h-1zM499 843h1v2h-1zM500 845h1v2h-1zM501 847h1v2h-1zM502 849h1v2h-1zM503 851h1v2h-1zM504 853h1v2h-1zM505 855h1v2h-1zM506 857h1v2h-1zM507 859h1v2h-1zM508 861h1v2h-1zM509 863h1v2h-1zM510 865h1v1h-1zM511 866h1v2h-1zM512 868h1v1h-1zM513 869h1v2h-1zM514 871h1v2h-1zM515 872h1v2h-1zM516 869h1v3h-1zM517 865h1v4h-1zM518 862h1v3h-1zM519 860h1v2h-1zM520 859h1v1h-1zM521 857h1v2h-1zM522 856h1v1h-1zM523 855h1v1h-1zM524 855h1v1h-1zM525 854h1v1h-1zM526 853h1v1h-1zM527 853h1v1h-1zM528 854h1v2h-1zM529 856h1v2h-1zM530 858h1v1h-1zM531 859h1v2h-1zM532 861h1v1h-1zM533 862h1v2h-1zM534 864h1v2h-1zM535 866h1v1h-1zM536 867h1v2h-1zM537 869h1v2h-1zM538 871h1v1h-1zM539 872h1v2h-1zM540 874h1v1h-1zM541 875h1v2h-1zM542 877h1v2h-1zM543 878h1v2h-1zM544 877h1v1h-1zM545 874h1v3h-1zM546 873h1v1h-1zM547 871h1v2h-1zM548 872h1v1h-1zM549 873h1v2h-1zM550 875h1v1h-1zM551 876h1v1h-1zM552 877h1v1h-1zM553 878h1v1h-1zM554 879h1v1h-1zM555 880h1v1h-1zM556 881h1v1h-1zM557 882h1v1h-1zM558 883h1v1h-1zM559 884h1v1h-1zM560 885h1v1h-1zM561 886h1v1h-1zM562 887h1v1h-1zM563 888h1v1h-1zM564 889h1v1h-1zM565 890h1v1h-1zM566 891h1v1h-1zM567 892h1v1h-1zM568 890h1v2h-1zM569 889h1v1h-1zM570 887h1v2h-1zM571 884h1v3h-1zM572 880h1v4h-1zM573 876h1v4h-1zM574 872h1v4h-1zM575 869h1v3h-1zM576 868h1v1h-1zM577 866h1v2h-1zM578 865h1v1h-1zM579 864h1v1h-1zM580 865h1v2h-1zM581 867h1v1h-1zM582 868h1v1h-1zM583 869h1v2h-1zM584 871h1v1h-1zM585 872h1v2h-1zM586 874h1v1h-1zM587 875h1v2h-1zM588 877h1v1h-1zM589 878h1v1h-1zM590 879h1v2h-1zM591 880h1v2h-1zM592 876h1v4h-1zM593 872h1v4h-1zM594 868h1v4h-1zM595 866h1v2h-1zM596 867h1v1h-1zM597 868h1v2h-1zM598 870h1v1h-1zM599 871h1v1h-1zM600 872h1v1h-1zM601 873h1v2h-1zM602 875h1v1h-1zM603 876h1v1h-1zM604 877h1v1h-1zM605 878h1v2h-1zM606 880h1v1h-1zM607 881h1v1h-1zM608 882h1v1h-1zM609 883h1v1h-1zM610 883h1v1h-1zM611 884h1v1h-1zM612 885h1v1h-1zM613 886h1v1h-1zM614 887h1v1h-1zM615 888h1v1h-1zM616 889h1v1h-1zM617 889h1v1h-1zM618 890h1v1h-1zM619 891h1v1h-1zM620 892h1v1h-1zM621 892h1v1h-1zM622 893h1v1h-1zM623 894h1v1h-1zM624 894h1v1h-1zM625 895h1v1h-1zM626 896h1v1h-1zM627 896h1v1h-1zM628 897h1v1h-1zM629 898h1v1h-1zM630 898h1v1h-1zM631 899h1v1h-1zM632 899h1v1h-1zM633 900h1v1h-1zM634 900h1v1h-1zM635 900h1v1h-1zM636 901h1v1h-1zM637 901h1v1h-1zM638 901h1v1h-1zM639 901h1v1h-1zM640 902h1v1h-1zM641 902h1v1h-1zM642 902h1v1h-1zM643 903h1v1h-1zM644 903h1v1h-1zM645 903h1v1h-1zM646 904h1v1h-1zM647 904h1v1h-1zM648 904h1v1h-1zM649 904h1v1h-1zM650 905h1v1h-1zM651 905h1v1h-1zM652 905h1v1h-1zM653 906h1v1h-1zM654 906h1v1h-1zM655 906h1v1h-1zM656 906h1v1h-1zM657 906h1v1h-1zM658 907h1v1h-1zM659 907h1v1h-1zM660 907h1v1h-1zM661 908h1v1h-1zM662 908h1v1h-1zM663 908h1v1h-1zM664 908h1v1h-1zM665 908h1v1h-1zM666 908h1v1h-1zM667 908h1v1h-1zM668 908h1v1h-1zM669 908h1v1h-1zM670 909h1v1h-1zM671 909h1v1h-1zM672 909h1v1h-1zM673 909h1v1h-1zM674 909h1v1h-1zM675 907h1v3h-1zM676 902h1v5h-1zM677 898h1v4h-1zM678 893h1v5h-1zM679 887h1v6h-1zM680 882h1v5h-1zM681 875h1v7h-1zM682 870h1v5h-1zM683 866h1v4h-1zM684 867h1v2h-1zM685 869h1v1h-1zM686 870h1v1h-1zM687 871h1v2h-1zM688 873h1v1h-1zM689 874h1v1h-1zM690 875h1v2h-1zM691 877h1v1h-1zM692 876h1v1h-1zM693 875h1v1h-1zM694 874h1v1h-1zM695 870h1v4h-1zM696 863h1v7h-1zM697 857h1v6h-1zM698 850h1v7h-1zM699 846h1v4h-1zM700 847h1v1h-1zM701 848h1v1h-1zM702 848h1v1h-1zM703 849h1v2h-1zM704 851h1v1h-1zM705 852h1v3h-1zM706 855h1v1h-1zM707 856h1v2h-1zM708 854h1v2h-1zM709 851h1v3h-1zM710 849h1v2h-1zM711 847h1v2h-1zM712 847h1v1h-1zM713 847h1v1h-1zM714 847h1v1h-1zM715 847h1v1h-1zM716 846h1v1h-1zM717 845h1v1h-1zM718 845h1v1h-1zM719 842h1v3h-1zM720 838h1v4h-1zM721 834h1v4h-1zM722 830h1v4h-1zM723 827h1v3h-1zM724 829h1v3h-1zM725 832h1v4h-1zM726 836h1v3h-1zM727 839h1v3h-1zM728 842h1v1h-1zM729 843h1v3h-1zM730 846h1v1h-1zM731 847h1v3h-1zM732 850h1v1h-1zM733 851h1v3h-1zM734 854h1v1h-1zM735 855h1v3h-1zM736 858h1v1h-1zM737 859h1v3h-1zM738 862h1v1h-1zM739 863h1v2h-1zM740 863h1v1h-1zM741 862h1v1h-1zM742 861h1v1h-1zM743 860h1v1h-1zM744 861h1v2h-1zM745 863h1v2h-1zM746 865h1v2h-1zM747 866h1v2h-1zM748 864h1v2h-1zM749 862h1v2h-1zM750 860h1v2h-1zM751 858h1v2h-1zM752 860h1v1h-1zM753 861h1v3h-1zM754 864h1v1h-1zM755 865h1v2h-1zM756 867h1v2h-1zM757 869h1v1h-1zM758 870h1v2h-1zM759 871h1v2h-1zM760 869h1v2h-1zM761 867h1v2h-1zM762 865h1v2h-1zM763 863h1v2h-1zM764 864h1v2h-1zM765 866h1v1h-1zM766 867h1v2h-1zM767 869h1v1h-1zM768 870h1v2h-1zM769 872h1v1h-1zM770 873h1v2h-1zM771 875h1v1h-1zM772 876h1v1h-1zM773 877h1v1h-1zM774 878h1v1h-1zM775 879h1v1h-1zM776 880h1v1h-1zM777 881h1v2h-1zM778 883h1v1h-1zM779 884h1v1h-1zM780 885h1v1h-1zM781 886h1v1h-1zM782 887h1v1h-1zM783 888h1v1h-1zM784 887h1v1h-1zM785 886h1v1h-1zM786 886h1v1h-1zM787 884h1v2h-1zM788 881h1v3h-1zM789 879h1v2h-1zM790 876h1v3h-1zM791 874h1v2h-1zM792 875h1v1h-1zM793 876h1v1h-1zM794 877h1v1h-1zM795 878h1v1h-1zM796 879h1v1h-1zM797 880h1v2h-1zM798 882h1v1h-1zM799 883h1v1h-1zM800 884h1v1h-1zM801 885h1v1h-1zM802 886h1v1h-1zM803 886h1v2h-1zM804 884h1v2h-1zM805 882h1v2h-1zM806 880h1v2h-1zM807 878h1v2h-1zM808 879h1v1h-1zM809 880h1v1h-1zM810 881h1v1h-1zM811 882h1v1h-1zM812 883h1v1h-1zM813 884h1v1h-1zM814 884h1v1h-1zM815 885h1v1h-1zM816 886h1v1h-1zM817 887h1v1h-1zM818 888h1v1h-1zM819 889h1v1h-1zM820 890h1v1h-1zM821 891h1v1h-1zM822 891h1v1h-1zM823 892h1v1h-1zM824 893h1v1h-1zM825 893h1v1h-1zM826 893h1v1h-1zM827 894h1v1h-1zM828 895h1v1h-1zM829 895h1v1h-1zM830 895h1v1h-1zM831 896h1v1h-1zM832 897h1v1h-1zM833 897h1v1h-1zM834 897h1v1h-1zM835 898h1v1h-1zM836 899h1v1h-1zM837 899h1v1h-1zM838 899h1v1h-1zM839 900h1v1h-1zM840 900h1v1h-1zM841 901h1v1h-1zM842 901h1v1h-1zM843 902h1v1h-1zM844 902h1v1h-1zM845 902h1v1h-1zM846 903h1v1h-1zM847 903h1v1h-1zM848 904h1v1h-1zM849 904h1v1h-1zM850 905h1v1h-1zM851 905h1v1h-1zM852 905h1v1h-1zM853 905h1v1h-1zM854 905h1v1h-1zM855 905h1v1h-1zM856 906h1v1h-1zM857 906h1v1h-1zM858 906h1v1h-1zM859 905h1v2h-1zM860 901h1v4h-1zM861 897h1v4h-1zM862 893h1v4h-1zM863 891h1v2h-1zM864 892h1v1h-1zM865 892h1v1h-1zM866 893h1v1h-1zM867 893h1v1h-1zM868 894h1v1h-1zM869 895h1v1h-1zM870 895h1v1h-1zM871 894h1v3h-1zM872 889h1v5h-1zM873 885h1v4h-1zM874 880h1v5h-1zM875 877h1v3h-1zM876 878h1v1h-1zM877 879h1v1h-1zM878 880h1v1h-1zM879 881h1v1h-1zM880 881h1v1h-1zM881 881h1v1h-1zM882 880h1v1h-1zM883 879h1v2h-1zM884 877h1v2h-1zM885 875h1v2h-1zM886 873h1v2h-1zM887 869h1v4h-1zM888 866h1v3h-1zM889 861h1v5h-1zM890 858h1v3h-1zM891 855h1v3h-1zM892 856h1v2h-1zM893 858h1v2h-1zM894 860h1v2h-1zM895 861h1v2h-1zM896 857h1v4h-1zM897 853h1v4h-1zM898 849h1v4h-1zM899 847h1v2h-1zM900 849h1v1h-1zM901 850h1v3h-1zM902 853h1v1h-1zM903 854h1v3h-1zM904 857h1v1h-1zM905 858h1v3h-1zM906 861h1v1h-1zM907 862h1v2h-1zM908 864h1v2h-1zM909 866h1v1h-1zM910 867h1v2h-1zM911 869h1v1h-1zM912 870h1v2h-1zM913 872h1v1h-1zM914 873h1v2h-1zM915 875h1v1h-1zM916 876h1v1h-1zM917 877h1v1h-1zM918 878h1v1h-1zM919 879h1v2h-1zM920 881h1v1h-1zM921 882h1v1h-1zM922 883h1v1h-1zM923 882h1v3h-1zM924 878h1v4h-1zM925 873h1v5h-1zM926 869h1v4h-1zM927 866h1v3h-1zM928 867h1v1h-1zM929 868h1v2h-1zM930 870h1v1h-1zM931 871h1v1h-1zM932 872h1v1h-1zM933 873h1v2h-1zM934 875h1v1h-1zM935 876h1v1h-1zM936 877h1v1h-1zM937 878h1v2h-1zM938 880h1v1h-1zM939 881h1v1h-1zM940 882h1v1h-1zM941 883h1v1h-1zM942 884h1v1h-1zM943 885h1v2h-1zM944 887h1v1h-1zM945 888h1v1h-1zM946 889h1v1h-1zM947 890h1v1h-1zM948 891h1v1h-1zM949 891h1v1h-1zM950 892h1v1h-1zM951 892h1v1h-1zM952 893h1v1h-1zM953 894h1v1h-1zM954 894h1v1h-1zM955 894h1v2h-1zM956 891h1v3h-1zM957 889h1v2h-1zM958 886h1v3h-1zM959 883h1v3h-1zM960 880h1v3h-1zM961 878h1v2h-1zM962 875h1v3h-1zM963 872h1v3h-1zM964 870h1v2h-1zM965 868h1v2h-1zM966 866h1v2h-1zM967 864h1v2h-1zM968 862h1v2h-1zM969 860h1v2h-1zM970 858h1v2h-1zM971 856h1v2h-1zM972 858h1v1h-1zM973 859h1v3h-1zM974 862h1v1h-1zM975 863h1v2h-1zM976 865h1v2h-1zM977 867h1v1h-1zM978 868h1v2h-1zM979 869h1v2h-1zM980 865h1v4h-1zM981 862h1v3h-1zM982 858h1v4h-1zM983 856h1v2h-1zM984 857h1v2h-1zM985 859h1v2h-1zM986 861h1v2h-1zM987 863h1v2h-1zM988 865h1v2h-1zM989 867h1v2h-1zM990 869h1v2h-1zM991 871h1v1h-1zM992 872h1v1h-1zM993 873h1v1h-1zM994 874h1v2h-1zM995 876h1v1h-1zM996 877h1v1h-1zM997 878h1v1h-1zM998 879h1v1h-1zM999 880h1v1h-1zM1000 881h1v2h-1zM1001 883h1v1h-1zM1002 884h1v1h-1zM1003 885h1v1h-1zM1004 886h1v1h-1zM1005 887h1v1h-1zM1006 887h1v1h-1zM1007 888h1v1h-1zM1008 889h1v1h-1zM1009 889h1v1h-1zM1010 890h1v1h-1zM1011 891h1v1h-1zM1012 892h1v1h-1zM1013 893h1v1h-1zM1014 893h1v1h-1zM1015 892h1v3h-1zM1016 887h1v5h-1zM1017 882h1v5h-1zM1018 877h1v5h-1zM1019 874h1v3h-1zM1020 875h1v1h-1zM1021 876h1v1h-1zM1022 877h1v1h-1zM1023 878h1v2h-1zM1024 880h1v1h-1zM1025 881h1v1h-1zM1026 882h1v1h-1zM1027 881h1v3h-1zM1028 876h1v5h-1zM1029 872h1v4h-1zM1030 867h1v5h-1zM1031 864h1v3h-1zM1032 863h1v1h-1zM1033 862h1v1h-1zM1034 862h1v1h-1zM1035 861h1v1h-1zM1036 862h1v2h-1zM1037 864h1v1h-1zM1038 865h1v2h-1zM1039 867h1v1h-1zM1040 868h1v2h-1zM1041 870h1v1h-1zM1042 871h1v2h-1zM1043 873h1v1h-1zM1044 874h1v2h-1zM1045 876h1v1h-1zM1046 877h1v2h-1zM1047 878h1v2h-1zM1048 874h1v4h-1zM1049 870h1v4h-1zM1050 866h1v4h-1zM1051 864h1v2h-1zM1052 865h1v1h-1zM1053 866h1v2h-1zM1054 868h1v1h-1zM1055 869h1v2h-1zM1056 871h1v1h-1zM1057 872h1v1h-1zM1058 873h1v1h-1zM1059 874h1v2h-1zM1060 876h1v1h-1zM1061 877h1v2h-1zM1062 879h1v1h-1zM1063 880h1v1h-1zM1064 881h1v1h-1zM1065 882h1v1h-1zM1066 883h1v1h-1zM1067 884h1v1h-1zM1068 885h1v1h-1zM1069 886h1v1h-1zM1070 887h1v1h-1zM1071 888h1v1h-1zM1072 889h1v1h-1zM1073 890h1v1h-1zM1074 890h1v1h-1zM1075 891h1v1h-1zM1076 891h1v1h-1zM1077 891h1v1h-1zM1078 890h1v1h-1zM1079 890h1v1h-1zM1080 890h1v1h-1zM1081 891h1v1h-1zM1082 892h1v1h-1zM1083 892h1v1h-1zM1084 892h1v1h-1zM1085 893h1v1h-1zM1086 894h1v1h-1zM1087 894h1v1h-1zM1088 894h1v1h-1zM1089 895h1v1h-1zM1090 896h1v1h-1zM1091 896h1v1h-1zM1092 896h1v1h-1zM1093 897h1v1h-1zM1094 898h1v1h-1zM1095 896h1v3h-1zM1096 891h1v5h-1zM1097 886h1v5h-1zM1098 881h1v5h-1zM1099 878h1v3h-1zM1100 879h1v1h-1zM1101 880h1v1h-1zM1102 881h1v1h-1zM1103 880h1v3h-1zM1104 875h1v5h-1zM1105 869h1v6h-1zM1106 864h1v5h-1zM1107 861h1v3h-1zM1108 862h1v2h-1zM1109 864h1v2h-1zM1110 866h1v1h-1zM1111 867h1v2h-1zM1112 869h1v1h-1zM1113 870h1v2h-1zM1114 872h1v2h-1zM1115 873h1v2h-1zM1116 871h1v2h-1zM1117 868h1v3h-1zM1118 866h1v2h-1zM1119 864h1v2h-1zM1120 865h1v2h-1zM1121 867h1v1h-1zM1122 868h1v2h-1zM1123 867h1v4h-1zM1124 860h1v7h-1zM1125 854h1v6h-1zM1126 847h1v7h-1zM1127 843h1v4h-1zM1128 845h1v2h-1zM1129 847h1v2h-1zM1130 849h1v2h-1zM1131 851h1v2h-1zM1132 849h1v2h-1zM1133 847h1v2h-1zM1134 845h1v2h-1zM1135 841h1v4h-1zM1136 837h1v4h-1zM1137 833h1v4h-1zM1138 829h1v4h-1zM1139 826h1v3h-1zM1140 828h1v3h-1zM1141 831h1v2h-1zM1142 833h1v3h-1zM1143 836h1v3h-1zM1144 839h1v3h-1zM1145 842h1v2h-1zM1146 844h1v3h-1zM1147 847h1v2h-1zM1148 847h1v1h-1zM1149 846h1v1h-1zM1150 845h1v1h-1zM1151 844h1v2h-1zM1152 846h1v2h-1zM1153 848h1v2h-1zM1154 850h1v2h-1zM1155 852h1v2h-1zM1156 854h1v2h-1zM1157 856h1v2h-1zM1158 858h1v2h-1zM1159 859h1v3h-1zM1160 854h1v5h-1zM1161 848h1v6h-1zM1162 843h1v5h-1zM1163 840h1v3h-1zM1164 842h1v2h-1zM1165 844h1v2h-1zM1166 846h1v2h-1zM1167 848h1v2h-1zM1168 850h1v2h-1zM1169 852h1v2h-1zM1170 854h1v2h-1zM1171 856h1v2h-1zM1172 858h1v2h-1zM1173 860h1v2h-1zM1174 862h1v2h-1zM1175 864h1v2h-1zM1176 866h1v1h-1zM1177 867h1v1h-1zM1178 867h1v1h-1zM1179 868h1v1h-1zM1180 869h1v1h-1zM1181 869h1v1h-1zM1182 870h1v1h-1zM1183 871h1v1h-1zM1184 872h1v1h-1zM1185 873h1v1h-1zM1186 874h1v1h-1zM1187 875h1v2h-1zM1188 877h1v1h-1zM1189 878h1v1h-1zM1190 879h1v1h-1zM1191 880h1v1h-1zM1192 881h1v1h-1zM1193 882h1v1h-1zM1194 883h1v1h-1zM1195 884h1v2h-1zM1196 886h1v1h-1zM1197 887h1v1h-1zM1198 888h1v1h-1zM1199 889h1v1h-1zM1200 889h1v1h-1zM1201 889h1v1h-1zM1202 889h1v1h-1zM1203 888h1v2h-1zM1204 885h1v3h-1zM1205 882h1v3h-1zM1206 879h1v3h-1zM1207 877h1v2h-1zM1208 878h1v1h-1zM1209 879h1v1h-1zM1210 880h1v1h-1zM1211 881h1v1h-1zM1212 882h1v1h-1zM1213 883h1v1h-1zM1214 884h1v1h-1zM1215 885h1v1h-1zM1216 885h1v1h-1zM1217 886h1v1h-1zM1218 887h1v1h-1zM1219 888h1v1h-1zM1220 889h1v1h-1zM1221 890h1v1h-1zM1222 891h1v1h-1zM1223 892h1v1h-1zM1224 891h1v1h-1zM1225 890h1v1h-1zM1226 890h1v1h-1zM1227 889h1v1h-1zM1228 890h1v1h-1zM1229 891h1v1h-1zM1230 891h1v1h-1zM1231 891h1v2h-1zM1232 887h1v4h-1zM1233 883h1v4h-1zM1234 879h1v4h-1zM1235 877h1v2h-1zM1236 878h1v1h-1zM1237 879h1v1h-1zM1238 880h1v1h-1zM1239 881h1v2h-1zM1240 883h1v1h-1zM1241 884h1v1h-1zM1242 885h1v1h-1zM1243 884h1v3h-1zM1244 879h1v5h-1zM1245 874h1v5h-1zM1246 869h1v5h-1zM1247 866h1v3h-1zM1248 867h1v1h-1zM1249 868h1v2h-1zM1250 870h1v1h-1zM1251 871h1v1h-1zM1252 872h1v1h-1zM1253 873h1v2h-1zM1254 875h1v1h-1zM1255 876h1v1h-1zM1256 877h1v1h-1zM1257 878h1v2h-1zM1258 880h1v1h-1zM1259 881h1v1h-1zM1260 882h1v1h-1zM1261 883h1v2h-1zM1262 885h1v1h-1zM1263 885h1v2h-1zM1264 882h1v3h-1zM1265 878h1v4h-1zM1266 875h1v3h-1zM1267 873h1v2h-1zM1268 874h1v1h-1zM1269 875h1v1h-1zM1270 876h1v1h-1zM1271 877h1v2h-1zM1272 879h1v1h-1zM1273 880h1v1h-1zM1274 881h1v1h-1zM1275 880h1v3h-1zM1276 876h1v4h-1zM1277 872h1v4h-1zM1278 868h1v4h-1zM1279 865h1v3h-1zM1280 865h1v1h-1zM1281 865h1v1h-1zM1282 865h1v1h-1zM1283 864h1v2h-1zM1284 862h1v2h-1zM1285 859h1v3h-1zM1286 857h1v2h-1zM1287 855h1v2h-1zM1288 856h1v2h-1zM1289 858h1v2h-1zM1290 860h1v2h-1zM1291 862h1v1h-1zM1292 863h1v2h-1zM1293 865h1v2h-1zM1294 867h1v2h-1zM1295 869h1v1h-1zM1296 870h1v1h-1zM1297 871h1v2h-1zM1298 873h1v1h-1zM1299 874h1v1h-1zM1300 875h1v1h-1zM1301 876h1v2h-1zM1302 878h1v1h-1zM1303 876h1v4h-1zM1304 871h1v5h-1zM1305 864h1v7h-1zM1306 859h1v5h-1zM1307 853h1v6h-1zM1308 847h1v6h-1zM1309 842h1v5h-1zM1310 836h1v6h-1zM1311 833h1v3h-1zM1312 835h1v2h-1zM1313 837h1v3h-1zM1314 840h1v2h-1zM1315 842h1v3h-1zM1316 845h1v2h-1zM1317 847h1v3h-1zM1318 850h1v2h-1zM1319 852h1v2h-1zM1320 854h1v2h-1zM1321 856h1v2h-1zM1322 858h1v2h-1zM1323 860h1v1h-1zM1324 861h1v1h-1zM1325 862h1v1h-1zM1326 862h1v1h-1zM1327 863h1v1h-1zM1328 863h1v1h-1zM1329 862h1v1h-1zM1330 861h1v1h-1zM1331 859h1v3h-1zM1332 855h1v4h-1zM1333 850h1v5h-1zM1334 846h1v4h-1zM1335 843h1v3h-1zM1336 845h1v2h-1zM1337 847h1v2h-1zM1338 849h1v2h-1zM1339 851h1v2h-1zM1340 853h1v2h-1zM1341 855h1v2h-1zM1342 857h1v2h-1zM1343 857h1v4h-1zM1344 851h1v6h-1zM1345 845h1v6h-1zM1346 839h1v6h-1zM1347 835h1v4h-1zM1348 836h1v1h-1zM1349 837h1v1h-1zM1350 837h1v1h-1zM1351 837h1v2h-1zM1352 833h1v4h-1zM1353 830h1v3h-1zM1354 826h1v4h-1zM1355 824h1v2h-1zM1356 825h1v1h-1zM1357 826h1v1h-1zM1358 827h1v1h-1zM1359 826h1v3h-1zM1360 821h1v5h-1zM1361 817h1v4h-1zM1362 812h1v5h-1zM1363 808h1v4h-1zM1364 806h1v2h-1zM1365 803h1v3h-1zM1366 801h1v2h-1zM1367 798h1v3h-1zM1368 796h1v2h-1zM1369 793h1v3h-1zM1370 791h1v2h-1zM1371 789h1v2h-1zM1372 791h1v4h-1zM1373 795h1v4h-1zM1374 799h1v3h-1zM1375 802h1v4h-1zM1376 806h1v3h-1zM1377 809h1v4h-1zM1378 813h1v4h-1zM1379 817h1v2h-1zM1380 819h1v1h-1zM1381 820h1v1h-1zM1382 820h1v1h-1zM1383 821h1v1h-1zM1384 819h1v2h-1zM1385 818h1v1h-1zM1386 816h1v2h-1zM1387 815h1v2h-1zM1388 817h1v3h-1zM1389 820h1v3h-1zM1390 823h1v3h-1zM1391 826h1v3h-1zM1392 829h1v3h-1zM1393 832h1v3h-1zM1394 835h1v3h-1zM1395 838h1v2h-1zM1396 835h1v3h-1zM1397 833h1v2h-1zM1398 830h1v3h-1zM1399 827h1v3h-1zM1400 826h1v1h-1zM1401 823h1v3h-1zM1402 822h1v1h-1zM1403 820h1v2h-1zM1404 821h1v2h-1zM1405 823h1v2h-1zM1406 825h1v2h-1zM1407 827h1v2h-1zM1408 829h1v2h-1zM1409 831h1v3h-1zM1410 834h1v2h-1zM1411 836h1v3h-1zM1412 839h1v2h-1zM1413 841h1v3h-1zM1414 844h1v2h-1zM1415 846h1v2h-1zM1416 848h1v1h-1zM1417 849h1v1h-1zM1418 849h1v1h-1zM1419 850h1v1h-1zM1420 851h1v2h-1zM1421 853h1v2h-1zM1422 855h1v2h-1zM1423 857h1v1h-1zM1424 857h1v1h-1zM1425 857h1v1h-1zM1426 858h1v1h-1zM1427 858h1v1h-1zM1428 859h1v2h-1zM1429 861h1v1h-1zM1430 862h1v2h-1zM1431 864h1v2h-1zM1432 866h1v1h-1zM1433 867h1v2h-1zM1434 869h1v1h-1zM1435 870h1v2h-1zM1436 872h1v2h-1zM1437 874h1v1h-1zM1438 875h1v2h-1zM1439 877h1v1h-1zM1440 878h1v1h-1zM1441 879h1v1h-1zM1442 880h1v1h-1zM1443 881h1v1h-1zM1444 882h1v1h-1zM1445 883h1v1h-1zM1446 884h1v1h-1zM1447 885h1v1h-1zM1448 886h1v1h-1zM1449 887h1v1h-1zM1450 888h1v1h-1zM1451 889h1v1h-1zM1452 889h1v1h-1zM1453 890h1v1h-1zM1454 891h1v1h-1zM1455 891h1v1h-1z"/><path fill="#32cd32" d="M3 151h1V179h-1zM2 156h3V177h-3zM7 152h1V165h-1zM6 157h3V158h-3zM11 133h1V163h-1zM10 157h3V158h-3zM15 118h1V161h-1zM14 120h3V158h-3zM19 109h1V132h-1zM18 120h3V127h-3zM23 99h1V132h-1zM22 105h3V127h-3zM27 85h1V109h-1zM26 86h3V106h-3zM31 68h1V89h-1zM30 81h3V87h-3zM35 66h1V85h-1zM34 66h3V82h-3zM39 55h1V79h-1zM38 66h3V74h-3zM43 70h1V88h-1zM42 74h3V82h-3zM47 72h1V98h-1zM46 81h3V95h-3zM51 90h1V110h-1zM50 90h3V95h-3zM55 89h1V105h-1zM54 90h3V96h-3zM59 82h1V97h-1zM58 84h3V96h-3zM63 79h1V88h-1zM62 79h3V84h-3zM67 78h1V92h-1zM66 79h3V90h-3zM71 86h1V92h-1zM70 89h3V91h-3zM79 78h1V92h-1zM78 81h3V89h-3zM83 77h1V89h-1zM82 81h3V84h-3zM115 88h1V114h-1zM114 104h3V107h-3zM171 118h1V157h-1zM170 144h3V150h-3zM175 140h1V152h-1zM174 143h3V145h-3zM179 126h1V149h-1zM178 135h3V144h-3zM183 112h1V138h-1zM182 116h3V136h-3zM187 58h1V126h-1zM186 74h3V117h-3zM191 64h1V87h-1zM190 74h3V82h-3zM195 69h1V84h-1zM194 70h3V82h-3zM199 66h1V79h-1zM198 70h3V76h-3zM203 43h1V77h-1zM202 61h3V76h-3zM207 46h1V85h-1zM206 61h3V80h-3zM211 69h1V109h-1zM210 80h3V94h-3zM215 81h1V106h-1zM214 92h3V94h-3zM219 77h1V101h-1zM218 77h3V93h-3zM223 74h1V93h-1zM222 77h3V82h-3zM227 67h1V89h-1zM226 71h3V83h-3zM231 54h1V78h-1zM230 63h3V72h-3zM235 36h1V67h-1zM234 40h3V65h-3zM239 36h1V57h-1zM238 40h3V55h-3zM243 36h1V57h-1zM242 37h3V55h-3zM247 37h1V60h-1zM246 37h3V57h-3zM251 53h1V68h-1zM250 56h3V64h-3zM255 55h1V67h-1zM254 60h3V64h-3zM259 53h1V67h-1zM258 59h3V61h-3zM263 51h1V63h-1zM262 54h3V60h-3zM267 47h1V61h-1zM266 50h3V56h-3zM271 47h1V56h-1zM270 49h3V51h-3zM275 50h1V64h-1zM274 50h3V61h-3zM279 47h1V66h-1zM278 50h3V62h-3zM299 58h1V76h-1zM298 69h3V74h-3zM439 171h1V185h-1zM438 175h3V179h-3zM443 171h1V181h-1zM442 175h3V178h-3zM447 171h1V181h-1zM446 177h3V179h-3zM471 165h1V190h-1zM470 165h3V175h-3zM475 156h1V173h-1zM474 160h3V166h-3zM479 154h1V171h-1zM478 161h3V165h-3zM483 163h1V173h-1zM482 164h3V166h-3zM487 162h1V174h-1zM486 165h3V167h-3zM491 165h1V175h-1zM490 166h3V172h-3zM495 157h1V179h-1zM494 161h3V172h-3zM499 149h1V165h-1zM498 156h3V162h-3zM503 150h1V173h-1zM502 156h3V166h-3zM507 163h1V176h-1zM506 165h3V167h-3zM531 147h1V160h-1zM530 148h3V157h-3zM535 148h1V165h-1zM534 148h3V160h-3zM699 205h1V227h-1zM698 216h3V224h-3zM703 202h1V221h-1zM702 211h3V216h-3zM707 204h1V220h-1zM706 209h3V212h-3zM711 197h1V214h-1zM710 202h3V211h-3zM715 191h1V218h-1zM714 202h3V215h-3zM719 183h1V217h-1zM718 188h3V215h-3zM723 162h1V193h-1zM722 173h3V189h-3zM727 167h1V180h-1zM726 173h3V175h-3zM731 167h1V183h-1zM730 173h3V175h-3zM743 215h1V234h-1zM742 221h3V225h-3zM747 216h1V230h-1zM746 219h3V224h-3zM751 211h1V225h-1zM750 219h3V224h-3zM899 412h1V429h-1zM898 416h3V423h-3zM971 454h1V475h-1zM970 461h3V474h-3zM975 454h1V477h-1zM974 461h3V475h-3zM983 450h1V488h-1zM982 457h3V485h-3zM987 455h1V470h-1zM986 458h3V468h-3zM1119 578h1V598h-1zM1118 593h3V595h-3zM1127 580h1V597h-1zM1126 586h3V595h-3zM1135 580h1V600h-1zM1134 588h3V596h-3zM1139 561h1V590h-1zM1138 571h3V589h-3zM1143 568h1V590h-1zM1142 571h3V588h-3zM1147 551h1V611h-1zM1146 562h3V588h-3zM1151 542h1V572h-1zM1150 562h3V564h-3zM1155 555h1V573h-1zM1154 562h3V564h-3zM1163 535h1V570h-1zM1162 546h3V566h-3zM1167 540h1V567h-1zM1166 547h3V554h-3zM1171 539h1V570h-1zM1170 553h3V565h-3zM1287 567h1V625h-1zM1286 577h3V604h-3zM1291 568h1V593h-1zM1290 577h3V584h-3zM1295 563h1V603h-1zM1294 583h3V595h-3zM1311 563h1V583h-1zM1310 570h3V581h-3zM1315 568h1V591h-1zM1314 570h3V582h-3zM1319 580h1V598h-1zM1318 581h3V595h-3zM1347 557h1V579h-1zM1346 559h3V577h-3zM1351 556h1V568h-1zM1350 559h3V561h-3zM1355 546h1V564h-1zM1354 555h3V561h-3zM1359 541h1V568h-1zM1358 544h3V556h-3zM1363 524h1V548h-1zM1362 532h3V544h-3zM1367 497h1V541h-1zM1366 499h3V533h-3zM1371 482h1V506h-1zM1370 492h3V500h-3zM1375 491h1V507h-1zM1374 492h3V500h-3zM1379 494h1V513h-1zM1378 499h3V500h-3zM1383 487h1V512h-1zM1382 487h3V500h-3zM1387 472h1V506h-1zM1386 487h3V490h-3zM1391 480h1V520h-1zM1390 489h3V517h-3zM1395 495h1V521h-1zM1394 507h3V517h-3zM1399 480h1V510h-1zM1398 489h3V508h-3zM1403 471h1V491h-1zM1402 473h3V490h-3zM1407 469h1V482h-1zM1406 473h3V478h-3zM1411 473h1V484h-1zM1410 477h3V483h-3zM1415 474h1V486h-1zM1414 477h3V483h-3zM1419 473h1V483h-1zM1418 475h3V482h-3zM1423 474h1V486h-1zM1422 474h3V481h-3zM1427 472h1V484h-1zM1426 478h3V481h-3z"/><path fill="#dc143c" d="M75 84h1V101h-1zM74 88h3V99h-3zM87 74h1V106h-1zM86 83h3V104h-3zM91 88h1V112h-1zM90 100h3V104h-3zM95 93h1V123h-1zM94 100h3V115h-3zM99 107h1V125h-1zM98 113h3V115h-3zM103 106h1V132h-1zM102 111h3V113h-3zM107 111h1V133h-1zM106 111h3V117h-3zM111 104h1V129h-1zM110 106h3V117h-3zM119 97h1V125h-1zM118 104h3V119h-3zM123 113h1V137h-1zM122 118h3V123h-3zM127 121h1V149h-1zM126 122h3V145h-3zM131 137h1V157h-1zM130 144h3V148h-3zM135 140h1V166h-1zM134 147h3V153h-3zM139 150h1V181h-1zM138 153h3V175h-3zM143 169h1V190h-1zM142 172h3V175h-3zM147 156h1V182h-1zM146 167h3V174h-3zM151 138h1V173h-1zM150 147h3V168h-3zM155 133h1V151h-1zM154 134h3V148h-3zM159 134h1V157h-1zM158 134h3V152h-3zM163 150h1V166h-1zM162 151h3V156h-3zM167 148h1V158h-1zM166 149h3V157h-3zM283 43h1V94h-1zM282 50h3V92h-3zM287 74h1V99h-1zM286 88h3V91h-3zM291 78h1V94h-1zM290 88h3V89h-3zM295 71h1V94h-1zM294 74h3V89h-3zM303 68h1V93h-1zM302 69h3V88h-3zM335 85h1V120h-1zM334 93h3V98h-3zM339 97h1V130h-1zM338 98h3V125h-3zM343 121h1V143h-1zM342 124h3V132h-3zM347 126h1V158h-1zM346 132h3V146h-3zM351 134h1V154h-1zM350 141h3V145h-3zM355 139h1V149h-1zM354 140h3V144h-3zM359 132h1V146h-1zM358 136h3V144h-3zM363 128h1V142h-1zM362 134h3V140h-3zM367 130h1V137h-1zM366 133h3V136h-3zM371 131h1V157h-1zM370 135h3V151h-3zM375 133h1V155h-1zM374 134h3V151h-3zM379 128h1V149h-1zM378 134h3V147h-3zM383 139h1V153h-1zM382 147h3V149h-3zM387 147h1V176h-1zM386 148h3V162h-3zM391 154h1V170h-1zM390 158h3V162h-3zM395 155h1V165h-1zM394 158h3V163h-3zM399 162h1V215h-1zM398 162h3V207h-3zM403 188h1V226h-1zM402 189h3V207h-3zM407 189h1V239h-1zM406 189h3V235h-3zM411 229h1V248h-1zM410 232h3V235h-3zM415 225h1V254h-1zM414 232h3V250h-3zM419 204h1V253h-1zM418 204h3V250h-3zM423 197h1V218h-1zM422 204h3V205h-3zM427 193h1V216h-1zM426 202h3V205h-3zM431 177h1V214h-1zM430 178h3V203h-3zM435 177h1V191h-1zM434 178h3V179h-3zM451 175h1V187h-1zM450 177h3V185h-3zM455 180h1V190h-1zM454 184h3V186h-3zM459 176h1V202h-1zM458 188h3V200h-3zM463 185h1V197h-1zM462 188h3V192h-3zM467 172h1V193h-1zM466 174h3V192h-3zM559 160h1V169h-1zM558 164h3V165h-3zM563 158h1V174h-1zM562 164h3V173h-3zM567 170h1V209h-1zM566 172h3V193h-3zM571 160h1V210h-1zM570 164h3V193h-3zM575 143h1V175h-1zM574 145h3V165h-3zM579 139h1V159h-1zM578 145h3V155h-3zM583 139h1V157h-1zM582 145h3V155h-3zM587 140h1V157h-1zM586 145h3V153h-3zM591 148h1V173h-1zM590 153h3V163h-3zM595 134h1V164h-1zM594 145h3V163h-3zM599 139h1V154h-1zM598 145h3V150h-3zM603 143h1V160h-1zM602 149h3V157h-3zM607 156h1V170h-1zM606 157h3V164h-3zM611 158h1V170h-1zM610 160h3V164h-3zM615 147h1V188h-1zM614 150h3V161h-3zM619 150h1V165h-1zM618 150h3V162h-3zM623 151h1V175h-1zM622 155h3V162h-3zM627 152h1V175h-1zM626 155h3V171h-3zM631 168h1V192h-1zM630 170h3V190h-3zM635 189h1V221h-1zM634 189h3V216h-3zM639 215h1V244h-1zM638 215h3V232h-3zM643 223h1V237h-1zM642 230h3V232h-3zM647 226h1V236h-1zM646 227h3V231h-3zM651 224h1V241h-1zM650 225h3V239h-3zM655 225h1V239h-1zM654 225h3V230h-3zM659 225h1V238h-1zM658 227h3V230h-3zM663 222h1V250h-1zM662 227h3V248h-3zM667 239h1V256h-1zM666 244h3V247h-3zM671 241h1V252h-1zM670 244h3V246h-3zM675 242h1V263h-1zM674 244h3V246h-3zM679 236h1V250h-1zM678 237h3V245h-3zM683 226h1V242h-1zM682 228h3V238h-3zM687 228h1V253h-1zM686 228h3V239h-3zM691 229h1V248h-1zM690 238h3V241h-3zM695 222h1V253h-1zM694 222h3V241h-3zM735 174h1V312h-1zM734 174h3V260h-3zM739 220h1V271h-1zM738 224h3V260h-3zM755 220h1V242h-1zM754 223h3V237h-3zM759 234h1V252h-1zM758 236h3V240h-3zM763 221h1V258h-1zM762 234h3V240h-3zM767 235h1V267h-1zM766 235h3V258h-3zM771 244h1V268h-1zM770 248h3V258h-3zM775 243h1V253h-1zM774 244h3V249h-3zM779 242h1V273h-1zM778 244h3V261h-3zM783 253h1V279h-1zM782 260h3V267h-3zM787 250h1V277h-1zM786 251h3V267h-3zM791 244h1V259h-1zM790 247h3V252h-3zM795 245h1V264h-1zM794 247h3V259h-3zM799 249h1V269h-1zM798 258h3V263h-3zM803 253h1V281h-1zM802 261h3V263h-3zM807 242h1V278h-1zM806 261h3V273h-3zM811 259h1V304h-1zM810 272h3V302h-3zM815 289h1V316h-1zM814 289h3V302h-3zM819 287h1V350h-1zM818 289h3V341h-3zM823 337h1V361h-1zM822 340h3V358h-3zM827 356h1V387h-1zM826 357h3V384h-3zM831 375h1V398h-1zM830 383h3V397h-3zM835 380h1V402h-1zM834 393h3V397h-3zM839 389h1V414h-1zM838 393h3V412h-3zM843 405h1V427h-1zM842 411h3V417h-3zM847 407h1V418h-1zM846 410h3V417h-3zM851 409h1V433h-1zM850 410h3V431h-3zM855 426h1V455h-1zM854 430h3V444h-3zM859 430h1V451h-1zM858 435h3V444h-3zM863 422h1V443h-1zM862 424h3V436h-3zM867 424h1V449h-1zM866 424h3V437h-3zM871 428h1V438h-1zM870 429h3V437h-3zM875 418h1V437h-1zM874 429h3V431h-3zM879 431h1V454h-1zM878 431h3V442h-3zM883 427h1V453h-1zM882 427h3V442h-3zM887 420h1V441h-1zM886 427h3V429h-3zM891 401h1V437h-1zM890 428h3V429h-3zM895 421h1V448h-1zM894 422h3V429h-3zM903 409h1V436h-1zM902 416h3V433h-3zM907 420h1V454h-1zM906 432h3V451h-3zM911 436h1V468h-1zM910 438h3V451h-3zM915 437h1V462h-1zM914 439h3V451h-3zM919 449h1V471h-1zM918 450h3V462h-3zM923 460h1V473h-1zM922 461h3V463h-3zM927 451h1V468h-1zM926 460h3V463h-3zM931 458h1V471h-1zM930 460h3V467h-3zM935 467h1V480h-1zM934 467h3V476h-3zM939 472h1V481h-1zM938 474h3V476h-3zM943 472h1V483h-1zM942 474h3V482h-3zM947 472h1V484h-1zM946 475h3V482h-3zM951 475h1V505h-1zM950 475h3V491h-3zM955 476h1V495h-1zM954 481h3V491h-3zM959 470h1V488h-1zM958 470h3V483h-3zM963 466h1V477h-1zM962 470h3V472h-3zM967 462h1V475h-1zM966 470h3V473h-3zM979 468h1V488h-1zM978 474h3V485h-3zM1003 473h1V495h-1zM1002 478h3V482h-3zM1007 478h1V510h-1zM1006 482h3V509h-3zM1011 496h1V521h-1zM1010 507h3V520h-3zM1015 517h1V528h-1zM1014 519h3V521h-3zM1019 504h1V528h-1zM1018 505h3V521h-3zM1023 505h1V525h-1zM1022 505h3V524h-3zM1027 513h1V525h-1zM1026 515h3V523h-3zM1031 506h1V519h-1zM1030 508h3V516h-3zM1035 504h1V516h-1zM1034 510h3V512h-3zM1039 506h1V514h-1zM1038 510h3V511h-3zM1043 506h1V565h-1zM1042 510h3V546h-3zM1047 521h1V562h-1zM1046 521h3V546h-3zM1051 501h1V541h-1zM1050 521h3V537h-3zM1055 523h1V547h-1zM1054 536h3V539h-3zM1059 525h1V543h-1zM1058 533h3V539h-3zM1063 532h1V566h-1zM1062 533h3V558h-3zM1067 553h1V589h-1zM1066 557h3V588h-3zM1071 584h1V622h-1zM1070 587h3V618h-3zM1075 597h1V637h-1zM1074 601h3V618h-3zM1079 592h1V634h-1zM1078 601h3V613h-3zM1083 591h1V615h-1zM1082 597h3V613h-3zM1087 592h1V628h-1zM1086 597h3V615h-3zM1091 613h1V651h-1zM1090 615h3V626h-3zM1095 614h1V650h-1zM1094 619h3V626h-3zM1099 605h1V622h-1zM1098 615h3V620h-3zM1103 604h1V636h-1zM1102 613h3V616h-3zM1107 579h1V620h-1zM1106 581h3V614h-3zM1111 579h1V599h-1zM1110 580h3V593h-3zM1115 586h1V599h-1zM1114 592h3V595h-3zM1123 593h1V603h-1zM1122 594h3V596h-3zM1131 588h1V607h-1zM1130 594h3V596h-3zM1175 564h1V589h-1zM1174 564h3V581h-3zM1199 579h1V608h-1zM1198 581h3V601h-3zM1203 577h1V605h-1zM1202 577h3V600h-3zM1207 571h1V587h-1zM1206 577h3V582h-3zM1211 580h1V593h-1zM1210 581h3V586h-3zM1215 585h1V609h-1zM1214 585h3V606h-3zM1219 604h1V615h-1zM1218 605h3V612h-3zM1223 604h1V614h-1zM1222 611h3V613h-3zM1227 604h1V614h-1zM1226 612h3V613h-3zM1231 602h1V617h-1zM1230 604h3V613h-3zM1235 597h1V610h-1zM1234 604h3V605h-3zM1239 603h1V629h-1zM1238 604h3V612h-3zM1243 602h1V637h-1zM1242 606h3V612h-3zM1247 585h1V614h-1zM1246 601h3V607h-3zM1251 601h1V636h-1zM1250 601h3V620h-3zM1255 616h1V629h-1zM1254 619h3V621h-3zM1259 616h1V641h-1zM1258 620h3V628h-3zM1263 626h1V654h-1zM1262 627h3V647h-3zM1267 606h1V654h-1zM1266 609h3V647h-3zM1271 609h1V641h-1zM1270 609h3V637h-3zM1275 612h1V643h-1zM1274 617h3V637h-3zM1279 597h1V626h-1zM1278 603h3V618h-3zM1283 593h1V623h-1zM1282 603h3V605h-3zM1431 477h1V516h-1zM1430 478h3V504h-3zM1435 494h1V519h-1zM1434 501h3V504h-3zM1439 499h1V518h-1zM1438 501h3V517h-3zM1443 503h1V522h-1zM1442 505h3V517h-3zM1447 504h1V515h-1zM1446 505h3V506h-3zM1451 500h1V529h-1zM1450 506h3V517h-3zM1455 502h1V525h-1zM1454 509h3V517h-3z"/><path fill="#800000" d="M307 68h1V95h-1zM306 74h3V88h-3zM311 74h1V95h-1zM310 74h3V84h-3zM315 75h1V90h-1zM314 77h3V84h-3zM319 76h1V87h-1zM318 77h3V80h-3zM323 75h1V92h-1zM322 75h3V80h-3zM327 70h1V89h-1zM326 75h3V86h-3zM331 83h1V107h-1zM330 86h3V94h-3zM515 164h1V182h-1zM514 168h3V175h-3zM543 161h1V174h-1zM542 164h3V170h-3zM547 157h1V171h-1zM546 161h3V169h-3zM551 158h1V166h-1zM550 159h3V162h-3zM555 159h1V178h-1zM554 165h3V168h-3zM995 460h1V476h-1zM994 461h3V472h-3zM999 466h1V484h-1zM998 471h3V478h-3zM1179 562h1V584h-1zM1178 576h3V582h-3zM1183 561h1V578h-1zM1182 566h3V577h-3zM1187 561h1V585h-1zM1186 567h3V581h-3zM1191 559h1V596h-1zM1190 570h3V581h-3zM1195 567h1V604h-1zM1194 570h3V582h-3zM1299 583h1V606h-1zM1298 594h3V602h-3zM1303 590h1V607h-1zM1302 594h3V602h-3zM1323 590h1V610h-1zM1322 592h3V604h-3zM1327 589h1V603h-1zM1326 589h3V594h-3zM1331 586h1V603h-1zM1330 589h3V596h-3z"/><path fill="#006400" d="M511 163h1V178h-1zM510 166h3V175h-3zM519 150h1V181h-1zM518 150h3V169h-3zM523 145h1V164h-1zM522 151h3V152h-3zM527 138h1V167h-1zM526 151h3V158h-3zM539 155h1V166h-1zM538 159h3V165h-3zM991 457h1V471h-1zM990 462h3V468h-3zM1159 560h1V574h-1zM1158 562h3V566h-3zM1307 580h1V601h-1zM1306 580h3V596h-3zM1335 565h1V599h-1zM1334 571h3V598h-3zM1339 571h1V595h-1zM1338 571h3V586h-3zM1343 574h1V589h-1zM1342 576h3V586h-3z"/><path fill="#dc143c" d="M306 87h3v1h-3zM310 83h3v1h-3zM314 83h3v1h-3zM318 79h3v1h-3zM322 79h3v1h-3zM326 85h3v1h-3zM330 93h3v1h-3zM510 174h3v1h-3zM514 174h3v1h-3zM518 168h3v1h-3zM522 151h3v1h-3zM526 157h3v1h-3zM538 164h3v1h-3zM542 169h3v1h-3zM546 168h3v1h-3zM550 161h3v1h-3zM554 167h3v1h-3zM990 467h3v1h-3zM994 471h3v1h-3zM998 477h3v1h-3zM1158 565h3v1h-3zM1178 581h3v1h-3zM1182 576h3v1h-3zM1186 580h3v1h-3zM1190 580h3v1h-3zM1194 581h3v1h-3zM1298 601h3v1h-3zM1302 601h3v1h-3zM1306 595h3v1h-3zM1322 603h3v1h-3zM1326 593h3v1h-3zM1330 595h3v1h-3zM1334 597h3v1h-3zM1338 585h3v1h-3zM1342 585h3v1h-3z"/><path fill="#900010" d="M3 178h1v1h-1zM7 164h1v1h-1zM11 162h1v1h-1zM15 160h1v1h-1zM19 131h1v1h-1zM23 131h1v1h-1zM27 108h1v1h-1zM31 88h1v1h-1zM35 84h1v1h-1zM39 78h1v1h-1zM43 87h1v1h-1zM47 97h1v1h-1zM51 109h1v1h-1zM55 104h1v1h-1zM59 96h1v1h-1zM63 87h1v1h-1zM67 91h1v1h-1zM71 91h1v1h-1zM75 100h1v1h-1zM79 91h1v1h-1zM83 88h1v1h-1zM87 105h1v1h-1zM91 111h1v1h-1zM95 122h1v1h-1zM99 124h1v1h-1zM103 131h1v1h-1zM107 132h1v1h-1zM111 128h1v1h-1zM115 113h1v1h-1zM119 124h1v1h-1zM123 136h1v1h-1zM127 148h1v1h-1zM131 156h1v1h-1zM135 165h1v1h-1zM139 180h1v1h-1zM143 189h1v1h-1zM147 181h1v1h-1zM151 172h1v1h-1zM155 150h1v1h-1zM159 156h1v1h-1zM163 165h1v1h-1zM167 157h1v1h-1zM171 156h1v1h-1zM175 151h1v1h-1zM179 148h1v1h-1zM183 137h1v1h-1zM187 125h1v1h-1zM191 86h1v1h-1zM195 83h1v1h-1zM199 78h1v1h-1zM203 76h1v1h-1zM207 84h1v1h-1zM211 108h1v1h-1zM215 105h1v1h-1zM219 100h1v1h-1zM223 92h1v1h-1zM227 88h1v1h-1zM231 77h1v1h-1zM235 66h1v1h-1zM239 56h1v1h-1zM243 56h1v1h-1zM247 59h1v1h-1zM251 67h1v1h-1zM255 66h1v1h-1zM259 66h1v1h-1zM263 62h1v1h-1zM267 60h1v1h-1zM271 55h1v1h-1zM275 63h1v1h-1zM279 65h1v1h-1zM283 93h1v1h-1zM287 98h1v1h-1zM291 93h1v1h-1zM295 93h1v1h-1zM299 75h1v1h-1zM303 92h1v1h-1zM307 94h1v1h-1zM311 94h1v1h-1zM315 89h1v1h-1zM319 86h1v1h-1zM323 91h1v1h-1zM327 88h1v1h-1zM331 106h1v1h-1zM335 119h1v1h-1zM339 129h1v1h-1zM343 142h1v1h-1zM347 157h1v1h-1zM351 153h1v1h-1zM355 148h1v1h-1zM359 145h1v1h-1zM363 141h1v1h-1zM367 136h1v1h-1zM371 156h1v1h-1zM375 154h1v1h-1zM379 148h1v1h-1zM383 152h1v1h-1zM387 175h1v1h-1zM391 169h1v1h-1zM395 164h1v1h-1zM399 214h1v1h-1zM403 225h1v1h-1zM407 238h1v1h-1zM411 247h1v1h-1zM415 253h1v1h-1zM419 252h1v1h-1zM423 217h1v1h-1zM427 215h1v1h-1zM431 213h1v1h-1zM435 190h1v1h-1zM439 184h1v1h-1zM443 180h1v1h-1zM447 180h1v1h-1zM451 186h1v1h-1zM455 189h1v1h-1zM459 201h1v1h-1zM463 196h1v1h-1zM467 192h1v1h-1zM471 189h1v1h-1zM475 172h1v1h-1zM479 170h1v1h-1zM483 172h1v1h-1zM487 173h1v1h-1zM491 174h1v1h-1zM495 178h1v1h-1zM499 164h1v1h-1zM503 172h1v1h-1zM507 175h1v1h-1zM511 177h1v1h-1zM515 181h1v1h-1zM519 180h1v1h-1zM523 163h1v1h-1zM527 166h1v1h-1zM531 159h1v1h-1zM535 164h1v1h-1zM539 165h1v1h-1zM543 173h1v1h-1zM547 170h1v1h-1zM551 165h1v1h-1zM555 177h1v1h-1zM559 168h1v1h-1zM563 173h1v1h-1zM567 208h1v1h-1zM571 209h1v1h-1zM575 174h1v1h-1zM579 158h1v1h-1zM583 156h1v1h-1zM587 156h1v1h-1zM591 172h1v1h-1zM595 163h1v1h-1zM599 153h1v1h-1zM603 159h1v1h-1zM607 169h1v1h-1zM611 169h1v1h-1zM615 187h1v1h-1zM619 164h1v1h-1zM623 174h1v1h-1zM627 174h1v1h-1zM631 191h1v1h-1zM635 220h1v1h-1zM639 243h1v1h-1zM643 236h1v1h-1zM647 235h1v1h-1zM651 240h1v1h-1zM655 238h1v1h-1zM659 237h1v1h-1zM663 249h1v1h-1zM667 255h1v1h-1zM671 251h1v1h-1zM675 262h1v1h-1zM679 249h1v1h-1zM683 241h1v1h-1zM687 252h1v1h-1zM691 247h1v1h-1zM695 252h1v1h-1zM699 226h1v1h-1zM703 220h1v1h-1zM707 219h1v1h-1zM711 213h1v1h-1zM715 217h1v1h-1zM719 216h1v1h-1zM723 192h1v1h-1zM727 179h1v1h-1zM731 182h1v1h-1zM735 311h1v1h-1zM739 270h1v1h-1zM743 233h1v1h-1zM747 229h1v1h-1zM751 224h1v1h-1zM755 241h1v1h-1zM759 251h1v1h-1zM763 257h1v1h-1zM767 266h1v1h-1zM771 267h1v1h-1zM775 252h1v1h-1zM779 272h1v1h-1zM783 278h1v1h-1zM787 276h1v1h-1zM791 258h1v1h-1zM795 263h1v1h-1zM799 268h1v1h-1zM803 280h1v1h-1zM807 277h1v1h-1zM811 303h1v1h-1zM815 315h1v1h-1zM819 349h1v1h-1zM823 360h1v1h-1zM827 386h1v1h-1zM831 397h1v1h-1zM835 401h1v1h-1zM839 413h1v1h-1zM843 426h1v1h-1zM847 417h1v1h-1zM851 432h1v1h-1zM855 454h1v1h-1zM859 450h1v1h-1zM863 442h1v1h-1zM867 448h1v1h-1zM871 437h1v1h-1zM875 436h1v1h-1zM879 453h1v1h-1zM883 452h1v1h-1zM887 440h1v1h-1zM891 436h1v1h-1zM895 447h1v1h-1zM899 428h1v1h-1zM903 435h1v1h-1zM907 453h1v1h-1zM911 467h1v1h-1zM915 461h1v1h-1zM919 470h1v1h-1zM923 472h1v1h-1zM927 467h1v1h-1zM931 470h1v1h-1zM935 479h1v1h-1zM939 480h1v1h-1zM943 482h1v1h-1zM947 483h1v1h-1zM951 504h1v1h-1zM955 494h1v1h-1zM959 487h1v1h-1zM963 476h1v1h-1zM967 474h1v1h-1zM971 474h1v1h-1zM975 476h1v1h-1zM979 487h1v1h-1zM983 487h1v1h-1zM987 469h1v1h-1zM991 470h1v1h-1zM995 475h1v1h-1zM999 483h1v1h-1zM1003 494h1v1h-1zM1007 509h1v1h-1zM1011 520h1v1h-1zM1015 527h1v1h-1zM1019 527h1v1h-1zM1023 524h1v1h-1zM1027 524h1v1h-1zM1031 518h1v1h-1zM1035 515h1v1h-1zM1039 513h1v1h-1zM1043 564h1v1h-1zM1047 561h1v1h-1zM1051 540h1v1h-1zM1055 546h1v1h-1zM1059 542h1v1h-1zM1063 565h1v1h-1zM1067 588h1v1h-1zM1071 621h1v1h-1zM1075 636h1v1h-1zM1079 633h1v1h-1zM1083 614h1v1h-1zM1087 627h1v1h-1zM1091 650h1v1h-1zM1095 649h1v1h-1zM1099 621h1v1h-1zM1103 635h1v1h-1zM1107 619h1v1h-1zM1111 598h1v1h-1zM1115 598h1v1h-1zM1119 597h1v1h-1zM1123 602h1v1h-1zM1127 596h1v1h-1zM1131 606h1v1h-1zM1135 599h1v1h-1zM1139 589h1v1h-1zM1143 589h1v1h-1zM1147 610h1v1h-1zM1151 571h1v1h-1zM1155 572h1v1h-1zM1159 573h1v1h-1zM1163 569h1v1h-1zM1167 566h1v1h-1zM1171 569h1v1h-1zM1175 588h1v1h-1zM1179 583h1v1h-1zM1183 577h1v1h-1zM1187 584h1v1h-1zM1191 595h1v1h-1zM1195 603h1v1h-1zM1199 607h1v1h-1zM1203 604h1v1h-1zM1207 586h1v1h-1zM1211 592h1v1h-1zM1215 608h1v1h-1zM1219 614h1v1h-1zM1223 613h1v1h-1zM1227 613h1v1h-1zM1231 616h1v1h-1zM1235 609h1v1h-1zM1239 628h1v1h-1zM1243 636h1v1h-1zM1247 613h1v1h-1zM1251 635h1v1h-1zM1255 628h1v1h-1zM1259 640h1v1h-1zM1263 653h1v1h-1zM1267 653h1v1h-1zM1271 640h1v1h-1zM1275 642h1v1h-1zM1279 625h1v1h-1zM1283 622h1v1h-1zM1287 624h1v1h-1zM1291 592h1v1h-1zM1295 602h1v1h-1zM1299 605h1v1h-1zM1303 606h1v1h-1zM1307 600h1v1h-1zM1311 582h1v1h-1zM1315 590h1v1h-1zM1319 597h1v1h-1zM1323 609h1v1h-1zM1327 602h1v1h-1zM1331 602h1v1h-1zM1335 598h1v1h-1zM1339 594h1v1h-1zM1343 588h1v1h-1zM1347 578h1v1h-1zM1351 567h1v1h-1zM1355 563h1v1h-1zM1359 567h1v1h-1zM1363 547h1v1h-1zM1367 540h1v1h-1zM1371 505h1v1h-1zM1375 506h1v1h-1zM1379 512h1v1h-1zM1383 511h1v1h-1zM1387 505h1v1h-1zM1391 519h1v1h-1zM1395 520h1v1h-1zM1399 509h1v1h-1zM1403 490h1v1h-1zM1407 481h1v1h-1zM1411 483h1v1h-1zM1415 485h1v1h-1zM1419 482h1v1h-1zM1423 485h1v1h-1zM1427 483h1v1h-1zM1431 515h1v1h-1zM1435 518h1v1h-1zM1439 517h1v1h-1zM1443 521h1v1h-1zM1447 514h1v1h-1zM1451 528h1v1h-1zM1455 524h1v1h-1z"/><rect x="2" y="2" width="1" height="668" fill="#000"/><path fill="#000" d="M6 9h7v1h-7zM7 10h5v1h-5zM8 11h3v1h-3zM9 12h1v1h-1z"/></svg>
<div class="t" style="left:19px;top:6px;letter-spacing:0px" id="title">AUDUSD,H1</div>
<div class="t" style="left:8px;top:676px;letter-spacing:-0.18px" id="adx">ADX(14) 34.7697 34.7697 7.0171 17.7546</div>
<div class="t pl" style="top:2px">0.76925</div>
<div class="t pl" style="top:35px">0.76750</div>
<div class="t pl" style="top:68px">0.76570</div>
<div class="t pl" style="top:101px">0.76395</div>
<div class="t pl" style="top:134px">0.76220</div>
<div class="t pl" style="top:167px">0.76040</div>
<div class="t pl" style="top:200px">0.75865</div>
<div class="t pl" style="top:233px">0.75685</div>
<div class="t pl" style="top:266px">0.75510</div>
<div class="t pl" style="top:299px">0.75330</div>
<div class="t pl" style="top:332px">0.75155</div>
<div class="t pl" style="top:365px">0.74980</div>
<div class="t pl" style="top:398px">0.74800</div>
<div class="t pl" style="top:431px">0.74625</div>
<div class="t pl" style="top:464px">0.74445</div>
<div class="t pl" style="top:497px">0.74270</div>
<div class="t pl" style="top:530px">0.74090</div>
<div class="t pl" style="top:563px">0.73915</div>
<div class="t pl" style="top:596px">0.73740</div>
<div class="t pl" style="top:629px">0.73560</div>
<div class="t pl" style="top:662px">0.73385</div>
<div class="t pl" style="top:505px;color:#fff;-webkit-text-stroke:0.2px #fff" id="cur">0.74225</div>
<div class="t pl" style="top:674px;left:1877px" id="p85">85.0734</div>
<div class="t pl" style="top:901px;left:1877px">0</div>
<div class="t tl" style="left:2px">4 Jun 2018</div>
<div class="t tl" style="left:66px">4 Jun 22:00</div>
<div class="t tl" style="left:130px">5 Jun 14:00</div>
<div class="t tl" style="left:194px">6 Jun 06:00</div>
<div class="t tl" style="left:258px">6 Jun 22:00</div>
<div class="t tl" style="left:322px">7 Jun 14:00</div>
<div class="t tl" style="left:386px">8 Jun 06:00</div>
<div class="t tl" style="left:450px">8 Jun 22:00</div>
<div class="t tl" style="left:514px">11 Jun 14:00</div>
<div class="t tl" style="left:578px">12 Jun 06:00</div>
<div class="t tl" style="left:642px">12 Jun 22:00</div>
<div class="t tl" style="left:706px">13 Jun 14:00</div>
<div class="t tl" style="left:770px">14 Jun 06:00</div>
<div class="t tl" style="left:834px">14 Jun 22:00</div>
<div class="t tl" style="left:898px">15 Jun 14:00</div>
<div class="t tl" style="left:962px">18 Jun 06:00</div>
<div class="t tl" style="left:1026px">18 Jun 22:00</div>
<div class="t tl" style="left:1090px">19 Jun 14:00</div>
<div class="t tl" style="left:1154px">20 Jun 06:00</div>
<div class="t tl" style="left:1218px">20 Jun 22:00</div>
<div class="t tl" style="left:1282px">21 Jun 14:00</div>
<div class="t tl" style="left:1346px">22 Jun 06:00</div>
<div class="t tl" style="left:1410px">22 Jun 22:00</div>
<div class="info" style="right:48px;top:2.5px;font-size:30px;line-height:32px;font-weight:bold;color:#808080;letter-spacing:-0.3px" id="big">1.2</div>
<div class="info" style="right:111.35px;top:34px;letter-spacing:0.35px">Bar Left</div>
<div class="info" style="right:48px;top:34px;letter-spacing:0.1px">[ 03:43 ]</div>
<div class="info" style="right:111.55px;top:45px;letter-spacing:0.55px">Sydney</div>
<div class="info" style="right:48px;top:45px;letter-spacing:0.1px">04:56 PM</div>
<div class="info red" style="right:111.55px;top:56px;letter-spacing:0.55px">* Tokyo</div>
<div class="info red" style="right:48px;top:56px;letter-spacing:0.1px">03:56 PM</div>
<div class="info red" style="right:111.10px;top:67px;letter-spacing:0.1px">* Berlin</div>
<div class="info red" style="right:48px;top:67px;letter-spacing:0.1px">08:56 AM</div>
<div class="info" style="right:111.00px;top:78px;letter-spacing:0.0px">London</div>
<div class="info" style="right:48px;top:78px;letter-spacing:0.1px">07:56 AM</div>
<div class="info" style="right:111.35px;top:89px;letter-spacing:0.35px">New York</div>
<div class="info" style="right:48px;top:89px;letter-spacing:0.1px">02:56 AM</div>
<div class="info" style="right:48px;top:100px;letter-spacing:0.2px">ATR (20): 21 pips</div>
</body></html>
